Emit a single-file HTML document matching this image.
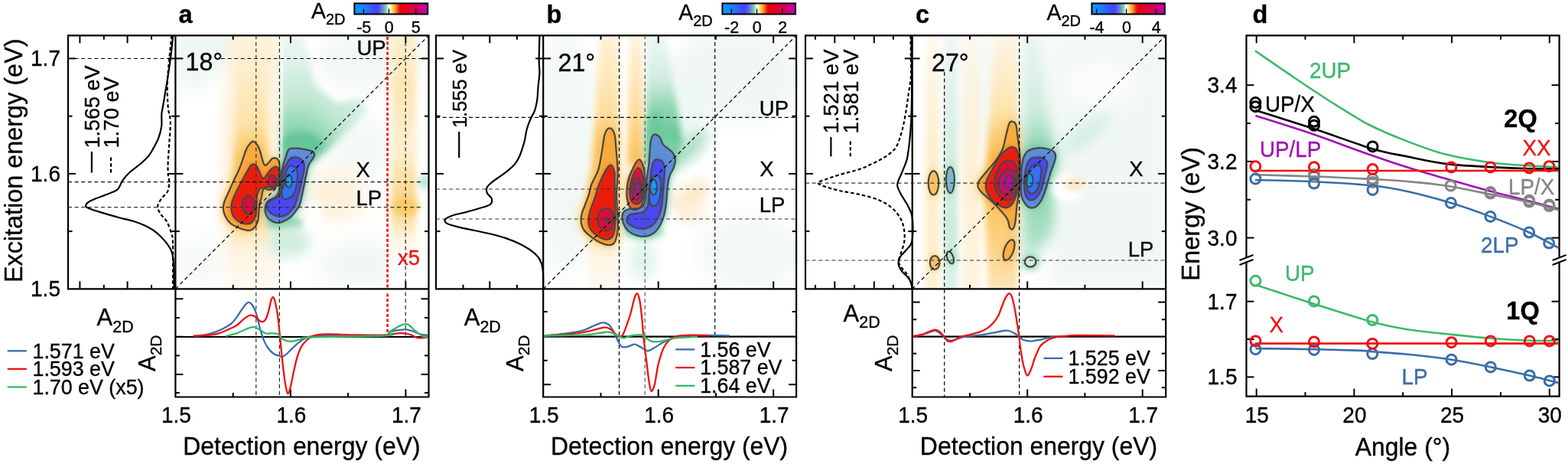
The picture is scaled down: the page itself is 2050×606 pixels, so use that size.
<!DOCTYPE html>
<html><head><meta charset="utf-8"><style>
html,body{margin:0;padding:0;background:#fff;}
svg{display:block;font-family:"Liberation Sans", Arial, sans-serif;}
text{stroke:currentColor;stroke-width:0.35px;}
</style></head><body>
<svg width="2050" height="606" viewBox="0 0 2050 606">
<defs>
<filter id="b1" x="-20%" y="-20%" width="140%" height="140%"><feGaussianBlur stdDeviation="1.2"/></filter>
<filter id="b2" x="-30%" y="-30%" width="160%" height="160%"><feGaussianBlur stdDeviation="2.5"/></filter>
<filter id="b4" x="-50%" y="-50%" width="200%" height="200%"><feGaussianBlur stdDeviation="4.5"/></filter>
<filter id="b8" x="-50%" y="-50%" width="200%" height="200%"><feGaussianBlur stdDeviation="8"/></filter>
<filter id="b14" x="-50%" y="-50%" width="200%" height="200%"><feGaussianBlur stdDeviation="14"/></filter>
<clipPath id="cpa"><rect x="229.4" y="46.3" width="331.1" height="331.1"/></clipPath>
<clipPath id="cpb"><rect x="710.2" y="46.3" width="330.9" height="331.1"/></clipPath>
<clipPath id="cpc"><rect x="1192.7" y="46.3" width="331.5" height="331.1"/></clipPath>
</defs>
<defs>
<linearGradient id="ga_or" x1="0" y1="46" x2="0" y2="377" gradientUnits="userSpaceOnUse">
<stop offset="0" stop-color="#fef4df"/><stop offset="0.35" stop-color="#fde2a6"/><stop offset="0.5" stop-color="#fbc35c"/>
<stop offset="0.72" stop-color="#fde0a0"/><stop offset="0.85" stop-color="#fef3e0"/><stop offset="1" stop-color="#fffaf2"/></linearGradient>
<linearGradient id="ga_pale" x1="0" y1="46" x2="0" y2="377" gradientUnits="userSpaceOnUse">
<stop offset="0" stop-color="#fdf1d8"/><stop offset="0.7" stop-color="#fdf1d8"/><stop offset="1" stop-color="#fffbf4"/></linearGradient>
<linearGradient id="ga_gr" x1="0" y1="46" x2="0" y2="210" gradientUnits="userSpaceOnUse">
<stop offset="0" stop-color="#e6f5ee"/><stop offset="0.45" stop-color="#b3e3cb"/><stop offset="1" stop-color="#5cc392"/></linearGradient>
<radialGradient id="ga_rg" cx="388" cy="210" r="150" fx="388" fy="210" gradientUnits="userSpaceOnUse" gradientTransform="translate(388,210) scale(1,1.15) translate(-388,-210)">
<stop offset="0" stop-color="#4fbf8c"/><stop offset="0.2" stop-color="#7fd0a8"/><stop offset="0.45" stop-color="#bde6d1"/><stop offset="0.8" stop-color="#e4f4ec"/><stop offset="1" stop-color="#f0f8f4"/></radialGradient>
<linearGradient id="ga_gr2" x1="0" y1="280" x2="0" y2="350" gradientUnits="userSpaceOnUse">
<stop offset="0" stop-color="#6fcb9d"/><stop offset="1" stop-color="#e6f5ee"/></linearGradient>
<linearGradient id="ga_17" x1="0" y1="46" x2="0" y2="377" gradientUnits="userSpaceOnUse">
<stop offset="0" stop-color="#fdefd0"/><stop offset="0.2" stop-color="#fde6b4"/><stop offset="0.45" stop-color="#fdefd2"/><stop offset="0.68" stop-color="#fbd27a"/><stop offset="0.8" stop-color="#fef4e2"/><stop offset="0.9" stop-color="#ffffff"/><stop offset="1" stop-color="#ffffff"/></linearGradient>
</defs>
<g clip-path="url(#cpa)">
<ellipse cx="255" cy="80" rx="35" ry="40" fill="#eef7f3" filter="url(#b14)"/>
<ellipse cx="290" cy="60" rx="60" ry="25" fill="#eef7f3" filter="url(#b8)"/>
<ellipse cx="480" cy="80" rx="70" ry="40" fill="#f2f8f5" filter="url(#b14)"/>
<ellipse cx="470" cy="190" rx="50" ry="40" fill="#f3f9f6" filter="url(#b14)"/>
<ellipse cx="470" cy="345" rx="60" ry="30" fill="#f0f7f4" filter="url(#b14)"/>
<ellipse cx="265" cy="340" rx="35" ry="30" fill="#f4f9f6" filter="url(#b14)"/>
<path d="M300,40 L366,40 L366,380 L292,380 L290,200 Z" fill="url(#ga_pale)" filter="url(#b8)"/>
<path d="M312,40 L345,40 L350,200 L354,300 L350,380 L300,380 L302,300 L306,200 Z" fill="url(#ga_or)" filter="url(#b4)"/>
<path d="M367.5,40 L396,40 L412,110 L440,135 L472,128 L480,145 L425,200 L405,214 L367.5,214 Z" fill="url(#ga_rg)" filter="url(#b4)"/>
<ellipse cx="395" cy="188" rx="26" ry="14" fill="#62c597" filter="url(#b4)"/>
<path d="M367.5,60 L369,60 L369,210 L367.5,210 Z" fill="#ffffff" filter="url(#b1)"/>
<ellipse cx="372" cy="292" rx="24" ry="10" fill="#86d2ab" filter="url(#b4)"/>
<ellipse cx="378" cy="315" rx="28" ry="22" fill="#d2eee0" filter="url(#b8)"/>
<ellipse cx="440" cy="255" rx="40" ry="32" fill="#fdefd8" filter="url(#b14)"/>
<ellipse cx="410" cy="283" rx="9" ry="20" fill="#ffffff" filter="url(#b4)"/>
<rect x="512" y="40" width="32" height="340" rx="0" fill="url(#ga_17)" filter="url(#b4)"/>
<ellipse cx="530" cy="270" rx="18" ry="10" fill="#fbc95e" filter="url(#b4)" opacity="0.85"/>
<ellipse cx="555" cy="238" rx="7" ry="9" fill="#b5e3cc" filter="url(#b4)"/>
<path d="M330.9,184.6C332.7,184.6 334.8,187.3 336.2,189.2C337.6,191.1 338.4,192.7 339.5,195.8C340.6,198.9 341.8,204.5 342.8,207.7C343.8,210.9 344.5,213.7 345.4,215C346.3,216.3 347,216.2 348.1,215.6C349.2,215 350.7,213.1 352,211.7C353.3,210.3 354.7,207.9 356,207C357.3,206.1 358.8,206.2 360,206.4C361.2,206.6 362.4,207.3 363.3,208.4C364.2,209.5 364.8,210.7 365.2,213C365.6,215.3 365.4,218.8 365.5,222C365.6,225.2 365.9,228.8 365.5,232C365.1,235.2 364.3,238.6 363,241C361.7,243.4 359.8,245.4 357.9,246.6C355.9,247.8 353.3,248 351.3,247.9C349.3,247.8 347.3,245.7 346,245.9C344.7,246.1 344.1,247.3 343.4,249.2C342.7,251.1 342.7,254.3 342,257.2C341.3,260.1 339.9,263.8 339.4,266.4C338.8,269 338.9,270.8 338.7,273C338.5,275.2 338.3,277.2 338.1,279.6C337.9,282 338.1,284.9 337.4,287.5C336.7,290.1 335.8,293.2 334.1,295.4C332.5,297.6 329.9,299.9 327.5,300.7C325.1,301.5 322.5,300.6 319.6,300C316.8,299.4 313.5,298.2 310.4,296.8C307.3,295.4 303.8,293.9 301.1,291.5C298.5,289.1 296,285.3 294.5,282.2C293,279.1 292.1,276.1 291.9,273C291.7,269.9 292.1,267.3 293.2,263.8C294.3,260.3 296.4,256.6 298.5,251.9C300.6,247.2 303.2,241 305.8,235.4C308.4,229.8 311.2,224.9 313.8,218.3C316.4,211.7 319.7,200.7 321.7,195.8C323.7,191 324.1,191.1 325.6,189.2C327.1,187.3 329.1,184.6 330.9,184.6Z" fill="#fccf70" stroke="none" stroke-width="0" filter="url(#b8)" opacity="0.9"/>
<path d="M330.9,184.6C332.7,184.6 334.8,187.3 336.2,189.2C337.6,191.1 338.4,192.7 339.5,195.8C340.6,198.9 341.8,204.5 342.8,207.7C343.8,210.9 344.5,213.7 345.4,215C346.3,216.3 347,216.2 348.1,215.6C349.2,215 350.7,213.1 352,211.7C353.3,210.3 354.7,207.9 356,207C357.3,206.1 358.8,206.2 360,206.4C361.2,206.6 362.4,207.3 363.3,208.4C364.2,209.5 364.8,210.7 365.2,213C365.6,215.3 365.4,218.8 365.5,222C365.6,225.2 365.9,228.8 365.5,232C365.1,235.2 364.3,238.6 363,241C361.7,243.4 359.8,245.4 357.9,246.6C355.9,247.8 353.3,248 351.3,247.9C349.3,247.8 347.3,245.7 346,245.9C344.7,246.1 344.1,247.3 343.4,249.2C342.7,251.1 342.7,254.3 342,257.2C341.3,260.1 339.9,263.8 339.4,266.4C338.8,269 338.9,270.8 338.7,273C338.5,275.2 338.3,277.2 338.1,279.6C337.9,282 338.1,284.9 337.4,287.5C336.7,290.1 335.8,293.2 334.1,295.4C332.5,297.6 329.9,299.9 327.5,300.7C325.1,301.5 322.5,300.6 319.6,300C316.8,299.4 313.5,298.2 310.4,296.8C307.3,295.4 303.8,293.9 301.1,291.5C298.5,289.1 296,285.3 294.5,282.2C293,279.1 292.1,276.1 291.9,273C291.7,269.9 292.1,267.3 293.2,263.8C294.3,260.3 296.4,256.6 298.5,251.9C300.6,247.2 303.2,241 305.8,235.4C308.4,229.8 311.2,224.9 313.8,218.3C316.4,211.7 319.7,200.7 321.7,195.8C323.7,191 324.1,191.1 325.6,189.2C327.1,187.3 329.1,184.6 330.9,184.6Z" fill="#f9b64a" stroke="none" stroke-width="0" filter="url(#b4)" opacity="0.9"/>
<path d="M378.6,194.2C380.6,193.4 384.7,193.5 387.8,193.6C390.9,193.7 393.9,194.3 397,194.9C400.1,195.5 404.1,196.1 406.3,196.9C408.5,197.7 409.4,198.4 410.2,199.5C411,200.6 411.2,202.1 410.9,203.5C410.6,204.9 409.3,206.6 408.3,208.1C407.3,209.6 406,210.8 405,212.7C404,214.6 403.1,216.7 402.3,219.3C401.5,222 401,225.5 400.3,228.6C399.6,231.7 399,234.7 398.4,237.8C397.8,240.9 397.1,243.9 396.5,247C395.9,250.1 395.3,253.1 394.5,256.4C393.7,259.7 393.1,263.9 391.9,267C390.7,270.1 389.1,272.3 387.2,274.9C385.3,277.5 383,280.6 380.6,282.8C378.2,285 375.3,286.7 372.7,288.1C370.1,289.5 367.4,290.8 364.8,291C362.2,291.2 359.3,290.4 356.9,289.4C354.5,288.4 351.9,286.8 350.3,284.8C348.7,282.8 347.6,280 347,277.5C346.4,275 346.7,271.8 347,269.6C347.3,267.4 348,265.7 349,264.3C350,262.9 351.4,262 352.9,261C354.4,260 356.6,259.4 358.2,258.4C359.8,257.4 361.1,256.5 362.2,255.1C363.3,253.7 364.2,251.8 364.8,249.8C365.4,247.8 365.7,246 366,243C366.3,240 366.1,235.5 366.5,232C366.9,228.5 368,225 368.7,222C369.4,219 369.8,216.7 370.6,214C371.4,211.3 372.4,208.7 373.3,206.1C374.2,203.5 375,200.2 375.9,198.2C376.8,196.2 376.6,195 378.6,194.2Z" fill="#8fd5b2" stroke="none" stroke-width="0" filter="url(#b8)" opacity="0.8"/>
<path d="M378.6,194.2C380.6,193.4 384.7,193.5 387.8,193.6C390.9,193.7 393.9,194.3 397,194.9C400.1,195.5 404.1,196.1 406.3,196.9C408.5,197.7 409.4,198.4 410.2,199.5C411,200.6 411.2,202.1 410.9,203.5C410.6,204.9 409.3,206.6 408.3,208.1C407.3,209.6 406,210.8 405,212.7C404,214.6 403.1,216.7 402.3,219.3C401.5,222 401,225.5 400.3,228.6C399.6,231.7 399,234.7 398.4,237.8C397.8,240.9 397.1,243.9 396.5,247C395.9,250.1 395.3,253.1 394.5,256.4C393.7,259.7 393.1,263.9 391.9,267C390.7,270.1 389.1,272.3 387.2,274.9C385.3,277.5 383,280.6 380.6,282.8C378.2,285 375.3,286.7 372.7,288.1C370.1,289.5 367.4,290.8 364.8,291C362.2,291.2 359.3,290.4 356.9,289.4C354.5,288.4 351.9,286.8 350.3,284.8C348.7,282.8 347.6,280 347,277.5C346.4,275 346.7,271.8 347,269.6C347.3,267.4 348,265.7 349,264.3C350,262.9 351.4,262 352.9,261C354.4,260 356.6,259.4 358.2,258.4C359.8,257.4 361.1,256.5 362.2,255.1C363.3,253.7 364.2,251.8 364.8,249.8C365.4,247.8 365.7,246 366,243C366.3,240 366.1,235.5 366.5,232C366.9,228.5 368,225 368.7,222C369.4,219 369.8,216.7 370.6,214C371.4,211.3 372.4,208.7 373.3,206.1C374.2,203.5 375,200.2 375.9,198.2C376.8,196.2 376.6,195 378.6,194.2Z" fill="#5cc393" stroke="none" stroke-width="0" filter="url(#b4)" opacity="0.9"/>
<path d="M330.9,184.6C332.7,184.6 334.8,187.3 336.2,189.2C337.6,191.1 338.4,192.7 339.5,195.8C340.6,198.9 341.8,204.5 342.8,207.7C343.8,210.9 344.5,213.7 345.4,215C346.3,216.3 347,216.2 348.1,215.6C349.2,215 350.7,213.1 352,211.7C353.3,210.3 354.7,207.9 356,207C357.3,206.1 358.8,206.2 360,206.4C361.2,206.6 362.4,207.3 363.3,208.4C364.2,209.5 364.8,210.7 365.2,213C365.6,215.3 365.4,218.8 365.5,222C365.6,225.2 365.9,228.8 365.5,232C365.1,235.2 364.3,238.6 363,241C361.7,243.4 359.8,245.4 357.9,246.6C355.9,247.8 353.3,248 351.3,247.9C349.3,247.8 347.3,245.7 346,245.9C344.7,246.1 344.1,247.3 343.4,249.2C342.7,251.1 342.7,254.3 342,257.2C341.3,260.1 339.9,263.8 339.4,266.4C338.8,269 338.9,270.8 338.7,273C338.5,275.2 338.3,277.2 338.1,279.6C337.9,282 338.1,284.9 337.4,287.5C336.7,290.1 335.8,293.2 334.1,295.4C332.5,297.6 329.9,299.9 327.5,300.7C325.1,301.5 322.5,300.6 319.6,300C316.8,299.4 313.5,298.2 310.4,296.8C307.3,295.4 303.8,293.9 301.1,291.5C298.5,289.1 296,285.3 294.5,282.2C293,279.1 292.1,276.1 291.9,273C291.7,269.9 292.1,267.3 293.2,263.8C294.3,260.3 296.4,256.6 298.5,251.9C300.6,247.2 303.2,241 305.8,235.4C308.4,229.8 311.2,224.9 313.8,218.3C316.4,211.7 319.7,200.7 321.7,195.8C323.7,191 324.1,191.1 325.6,189.2C327.1,187.3 329.1,184.6 330.9,184.6Z" fill="#f8aa3a" stroke="none" stroke-width="0" filter="url(#b1)"/>
<path d="M324.3,222.2C325.6,220 327,216.9 328.3,215.6C329.6,214.3 331,214.4 332.2,214.6C333.4,214.8 334.4,215.5 335.5,217C336.6,218.5 337.7,221.2 338.8,223.6C339.9,226 341,230 342.1,231.5C343.2,233 344.2,233.5 345.4,232.8C346.6,232.1 348.1,229.3 349.4,227.5C350.7,225.7 351.9,223.7 353.4,222.2C354.9,220.7 357.2,219 358.6,218.3C360,217.7 361.1,217.7 362,218.3C362.9,218.9 363.5,219.7 363.8,222C364.1,224.3 364.3,229 364,232C363.7,235 363.3,238 362,240C360.7,242 358.7,243.2 356,244C353.3,244.8 348.6,244.2 346,244.5C343.4,244.8 341.8,245.2 340.5,246C339.2,246.8 338.9,247.3 338.1,249C337.3,250.7 336.2,253.1 335.8,256C335.4,258.9 335.6,262.9 335.4,266.4C335.2,269.9 335.2,273.9 334.8,277C334.4,280.1 334,282.5 332.8,284.9C331.6,287.3 329.7,290.3 327.5,291.5C325.3,292.7 322.2,292.6 319.6,292.1C317,291.7 314.1,290.5 311.7,288.8C309.3,287.1 306.6,284.8 305,282.2C303.4,279.6 302.6,276.3 302.4,273C302.2,269.7 302.7,266.1 303.8,262.4C304.9,258.7 307,254.7 309,250.6C311,246.5 313.7,241.6 315.6,238C317.5,234.4 318.9,231.6 320.4,229C321.8,226.4 323,224.4 324.3,222.2Z" fill="#f26a1e" stroke="none" stroke-width="0" filter="url(#b4)"/>
<path d="M324.3,222.2C325.6,220 327,216.9 328.3,215.6C329.6,214.3 331,214.4 332.2,214.6C333.4,214.8 334.4,215.5 335.5,217C336.6,218.5 337.7,221.2 338.8,223.6C339.9,226 341,230 342.1,231.5C343.2,233 344.2,233.5 345.4,232.8C346.6,232.1 348.1,229.3 349.4,227.5C350.7,225.7 351.9,223.7 353.4,222.2C354.9,220.7 357.2,219 358.6,218.3C360,217.7 361.1,217.7 362,218.3C362.9,218.9 363.5,219.7 363.8,222C364.1,224.3 364.3,229 364,232C363.7,235 363.3,238 362,240C360.7,242 358.7,243.2 356,244C353.3,244.8 348.6,244.2 346,244.5C343.4,244.8 341.8,245.2 340.5,246C339.2,246.8 338.9,247.3 338.1,249C337.3,250.7 336.2,253.1 335.8,256C335.4,258.9 335.6,262.9 335.4,266.4C335.2,269.9 335.2,273.9 334.8,277C334.4,280.1 334,282.5 332.8,284.9C331.6,287.3 329.7,290.3 327.5,291.5C325.3,292.7 322.2,292.6 319.6,292.1C317,291.7 314.1,290.5 311.7,288.8C309.3,287.1 306.6,284.8 305,282.2C303.4,279.6 302.6,276.3 302.4,273C302.2,269.7 302.7,266.1 303.8,262.4C304.9,258.7 307,254.7 309,250.6C311,246.5 313.7,241.6 315.6,238C317.5,234.4 318.9,231.6 320.4,229C321.8,226.4 323,224.4 324.3,222.2Z" fill="#ec1a10" stroke="none" stroke-width="0" filter="url(#b1)"/>
<path d="M378.6,194.2C380.6,193.4 384.7,193.5 387.8,193.6C390.9,193.7 393.9,194.3 397,194.9C400.1,195.5 404.1,196.1 406.3,196.9C408.5,197.7 409.4,198.4 410.2,199.5C411,200.6 411.2,202.1 410.9,203.5C410.6,204.9 409.3,206.6 408.3,208.1C407.3,209.6 406,210.8 405,212.7C404,214.6 403.1,216.7 402.3,219.3C401.5,222 401,225.5 400.3,228.6C399.6,231.7 399,234.7 398.4,237.8C397.8,240.9 397.1,243.9 396.5,247C395.9,250.1 395.3,253.1 394.5,256.4C393.7,259.7 393.1,263.9 391.9,267C390.7,270.1 389.1,272.3 387.2,274.9C385.3,277.5 383,280.6 380.6,282.8C378.2,285 375.3,286.7 372.7,288.1C370.1,289.5 367.4,290.8 364.8,291C362.2,291.2 359.3,290.4 356.9,289.4C354.5,288.4 351.9,286.8 350.3,284.8C348.7,282.8 347.6,280 347,277.5C346.4,275 346.7,271.8 347,269.6C347.3,267.4 348,265.7 349,264.3C350,262.9 351.4,262 352.9,261C354.4,260 356.6,259.4 358.2,258.4C359.8,257.4 361.1,256.5 362.2,255.1C363.3,253.7 364.2,251.8 364.8,249.8C365.4,247.8 365.7,246 366,243C366.3,240 366.1,235.5 366.5,232C366.9,228.5 368,225 368.7,222C369.4,219 369.8,216.7 370.6,214C371.4,211.3 372.4,208.7 373.3,206.1C374.2,203.5 375,200.2 375.9,198.2C376.8,196.2 376.6,195 378.6,194.2Z" fill="#5b90d6" stroke="none" stroke-width="0" filter="url(#b1)"/>
<path d="M381.2,206.1C383,205.3 385.6,205.1 387.8,205.5C390,205.9 392.8,207.2 394.4,208.8C396,210.5 397.3,212.8 397.7,215.4C398.1,218 397.6,221.3 397,224.6C396.4,227.9 395.1,231.8 394.4,235.2C393.6,238.6 393.4,241.5 392.5,245C391.6,248.5 390.3,252.7 389.2,256.4C388.1,260.1 387.3,263.9 385.9,267C384.5,270.1 382.6,272.6 380.6,274.9C378.6,277.2 376.4,279.5 374,280.8C371.6,282.1 368.7,282.8 366.1,282.8C363.5,282.8 360.6,281.9 358.2,280.8C355.8,279.7 353.1,278.1 351.6,276.2C350.1,274.3 349.2,271.6 349,269.6C348.8,267.6 349.2,265.7 350.3,264.3C351.4,262.9 353.6,262 355.6,261C357.6,260 360.4,259.6 362.2,258.4C363.9,257.2 365.1,255.9 366.1,253.8C367.1,251.7 367.6,248.9 368.1,245.8C368.6,242.7 368.7,238.8 369,235C369.3,231.2 369.3,226.4 370,223.3C370.7,220.2 372.1,218.9 373.3,216.7C374.5,214.5 375.9,211.9 377.2,210.1C378.5,208.3 379.4,206.9 381.2,206.1Z" fill="#5a66ee" stroke="none" stroke-width="0" filter="url(#b4)"/>
<path d="M381.2,206.1C383,205.3 385.6,205.1 387.8,205.5C390,205.9 392.8,207.2 394.4,208.8C396,210.5 397.3,212.8 397.7,215.4C398.1,218 397.6,221.3 397,224.6C396.4,227.9 395.1,231.8 394.4,235.2C393.6,238.6 393.4,241.5 392.5,245C391.6,248.5 390.3,252.7 389.2,256.4C388.1,260.1 387.3,263.9 385.9,267C384.5,270.1 382.6,272.6 380.6,274.9C378.6,277.2 376.4,279.5 374,280.8C371.6,282.1 368.7,282.8 366.1,282.8C363.5,282.8 360.6,281.9 358.2,280.8C355.8,279.7 353.1,278.1 351.6,276.2C350.1,274.3 349.2,271.6 349,269.6C348.8,267.6 349.2,265.7 350.3,264.3C351.4,262.9 353.6,262 355.6,261C357.6,260 360.4,259.6 362.2,258.4C363.9,257.2 365.1,255.9 366.1,253.8C367.1,251.7 367.6,248.9 368.1,245.8C368.6,242.7 368.7,238.8 369,235C369.3,231.2 369.3,226.4 370,223.3C370.7,220.2 372.1,218.9 373.3,216.7C374.5,214.5 375.9,211.9 377.2,210.1C378.5,208.3 379.4,206.9 381.2,206.1Z" fill="#4a46f6" stroke="none" stroke-width="0" filter="url(#b1)"/>
<path d="M377.2,218C378.6,216.7 380.9,216.3 382.5,216.7C384.1,217.1 386,218.8 387.1,220.6C388.2,222.3 388.9,224.3 389.1,227.2C389.3,230.1 388.9,234.5 388.5,237.8C388.1,241.1 387.3,244.3 386.5,247C385.7,249.7 384.9,252 383.5,254C382.1,256 379.9,258 378,259C376.1,260 373.6,260.5 372,260C370.4,259.5 369.1,257.8 368.5,256C367.9,254.2 368,251.5 368.5,249C369,246.5 370.8,243.5 371.5,241C372.2,238.5 372.2,236.5 372.6,233.8C373,231.1 373.1,227.2 373.9,224.6C374.7,222 375.8,219.3 377.2,218Z" fill="#3070ff" stroke="none" stroke-width="0" filter="url(#b1)"/>
<ellipse cx="324.9" cy="267.7" rx="8" ry="12" fill="#d8083e" filter="url(#b1)"/>
<ellipse cx="356" cy="237.4" rx="5" ry="8.6" fill="#d8083e" filter="url(#b1)"/>
<ellipse cx="377.5" cy="236.5" rx="4.2" ry="8.5" fill="#149cf8" filter="url(#b1)"/>
<path d="M330.9,184.6C332.7,184.6 334.8,187.3 336.2,189.2C337.6,191.1 338.4,192.7 339.5,195.8C340.6,198.9 341.8,204.5 342.8,207.7C343.8,210.9 344.5,213.7 345.4,215C346.3,216.3 347,216.2 348.1,215.6C349.2,215 350.7,213.1 352,211.7C353.3,210.3 354.7,207.9 356,207C357.3,206.1 358.8,206.2 360,206.4C361.2,206.6 362.4,207.3 363.3,208.4C364.2,209.5 364.8,210.7 365.2,213C365.6,215.3 365.4,218.8 365.5,222C365.6,225.2 365.9,228.8 365.5,232C365.1,235.2 364.3,238.6 363,241C361.7,243.4 359.8,245.4 357.9,246.6C355.9,247.8 353.3,248 351.3,247.9C349.3,247.8 347.3,245.7 346,245.9C344.7,246.1 344.1,247.3 343.4,249.2C342.7,251.1 342.7,254.3 342,257.2C341.3,260.1 339.9,263.8 339.4,266.4C338.8,269 338.9,270.8 338.7,273C338.5,275.2 338.3,277.2 338.1,279.6C337.9,282 338.1,284.9 337.4,287.5C336.7,290.1 335.8,293.2 334.1,295.4C332.5,297.6 329.9,299.9 327.5,300.7C325.1,301.5 322.5,300.6 319.6,300C316.8,299.4 313.5,298.2 310.4,296.8C307.3,295.4 303.8,293.9 301.1,291.5C298.5,289.1 296,285.3 294.5,282.2C293,279.1 292.1,276.1 291.9,273C291.7,269.9 292.1,267.3 293.2,263.8C294.3,260.3 296.4,256.6 298.5,251.9C300.6,247.2 303.2,241 305.8,235.4C308.4,229.8 311.2,224.9 313.8,218.3C316.4,211.7 319.7,200.7 321.7,195.8C323.7,191 324.1,191.1 325.6,189.2C327.1,187.3 329.1,184.6 330.9,184.6Z" fill="none" stroke="#474747" stroke-width="2.25"/>
<path d="M324.3,222.2C325.6,220 327,216.9 328.3,215.6C329.6,214.3 331,214.4 332.2,214.6C333.4,214.8 334.4,215.5 335.5,217C336.6,218.5 337.7,221.2 338.8,223.6C339.9,226 341,230 342.1,231.5C343.2,233 344.2,233.5 345.4,232.8C346.6,232.1 348.1,229.3 349.4,227.5C350.7,225.7 351.9,223.7 353.4,222.2C354.9,220.7 357.2,219 358.6,218.3C360,217.7 361.1,217.7 362,218.3C362.9,218.9 363.5,219.7 363.8,222C364.1,224.3 364.3,229 364,232C363.7,235 363.3,238 362,240C360.7,242 358.7,243.2 356,244C353.3,244.8 348.6,244.2 346,244.5C343.4,244.8 341.8,245.2 340.5,246C339.2,246.8 338.9,247.3 338.1,249C337.3,250.7 336.2,253.1 335.8,256C335.4,258.9 335.6,262.9 335.4,266.4C335.2,269.9 335.2,273.9 334.8,277C334.4,280.1 334,282.5 332.8,284.9C331.6,287.3 329.7,290.3 327.5,291.5C325.3,292.7 322.2,292.6 319.6,292.1C317,291.7 314.1,290.5 311.7,288.8C309.3,287.1 306.6,284.8 305,282.2C303.4,279.6 302.6,276.3 302.4,273C302.2,269.7 302.7,266.1 303.8,262.4C304.9,258.7 307,254.7 309,250.6C311,246.5 313.7,241.6 315.6,238C317.5,234.4 318.9,231.6 320.4,229C321.8,226.4 323,224.4 324.3,222.2Z" fill="none" stroke="#474747" stroke-width="2.25"/>
<path d="M378.6,194.2C380.6,193.4 384.7,193.5 387.8,193.6C390.9,193.7 393.9,194.3 397,194.9C400.1,195.5 404.1,196.1 406.3,196.9C408.5,197.7 409.4,198.4 410.2,199.5C411,200.6 411.2,202.1 410.9,203.5C410.6,204.9 409.3,206.6 408.3,208.1C407.3,209.6 406,210.8 405,212.7C404,214.6 403.1,216.7 402.3,219.3C401.5,222 401,225.5 400.3,228.6C399.6,231.7 399,234.7 398.4,237.8C397.8,240.9 397.1,243.9 396.5,247C395.9,250.1 395.3,253.1 394.5,256.4C393.7,259.7 393.1,263.9 391.9,267C390.7,270.1 389.1,272.3 387.2,274.9C385.3,277.5 383,280.6 380.6,282.8C378.2,285 375.3,286.7 372.7,288.1C370.1,289.5 367.4,290.8 364.8,291C362.2,291.2 359.3,290.4 356.9,289.4C354.5,288.4 351.9,286.8 350.3,284.8C348.7,282.8 347.6,280 347,277.5C346.4,275 346.7,271.8 347,269.6C347.3,267.4 348,265.7 349,264.3C350,262.9 351.4,262 352.9,261C354.4,260 356.6,259.4 358.2,258.4C359.8,257.4 361.1,256.5 362.2,255.1C363.3,253.7 364.2,251.8 364.8,249.8C365.4,247.8 365.7,246 366,243C366.3,240 366.1,235.5 366.5,232C366.9,228.5 368,225 368.7,222C369.4,219 369.8,216.7 370.6,214C371.4,211.3 372.4,208.7 373.3,206.1C374.2,203.5 375,200.2 375.9,198.2C376.8,196.2 376.6,195 378.6,194.2Z" fill="none" stroke="#474747" stroke-width="2.25"/>
<path d="M381.2,206.1C383,205.3 385.6,205.1 387.8,205.5C390,205.9 392.8,207.2 394.4,208.8C396,210.5 397.3,212.8 397.7,215.4C398.1,218 397.6,221.3 397,224.6C396.4,227.9 395.1,231.8 394.4,235.2C393.6,238.6 393.4,241.5 392.5,245C391.6,248.5 390.3,252.7 389.2,256.4C388.1,260.1 387.3,263.9 385.9,267C384.5,270.1 382.6,272.6 380.6,274.9C378.6,277.2 376.4,279.5 374,280.8C371.6,282.1 368.7,282.8 366.1,282.8C363.5,282.8 360.6,281.9 358.2,280.8C355.8,279.7 353.1,278.1 351.6,276.2C350.1,274.3 349.2,271.6 349,269.6C348.8,267.6 349.2,265.7 350.3,264.3C351.4,262.9 353.6,262 355.6,261C357.6,260 360.4,259.6 362.2,258.4C363.9,257.2 365.1,255.9 366.1,253.8C367.1,251.7 367.6,248.9 368.1,245.8C368.6,242.7 368.7,238.8 369,235C369.3,231.2 369.3,226.4 370,223.3C370.7,220.2 372.1,218.9 373.3,216.7C374.5,214.5 375.9,211.9 377.2,210.1C378.5,208.3 379.4,206.9 381.2,206.1Z" fill="none" stroke="#474747" stroke-width="2.25"/>
<path d="M377.2,218C378.6,216.7 380.9,216.3 382.5,216.7C384.1,217.1 386,218.8 387.1,220.6C388.2,222.3 388.9,224.3 389.1,227.2C389.3,230.1 388.9,234.5 388.5,237.8C388.1,241.1 387.3,244.3 386.5,247C385.7,249.7 384.9,252 383.5,254C382.1,256 379.9,258 378,259C376.1,260 373.6,260.5 372,260C370.4,259.5 369.1,257.8 368.5,256C367.9,254.2 368,251.5 368.5,249C369,246.5 370.8,243.5 371.5,241C372.2,238.5 372.2,236.5 372.6,233.8C373,231.1 373.1,227.2 373.9,224.6C374.7,222 375.8,219.3 377.2,218Z" fill="none" stroke="#474747" stroke-width="2.25"/>
<ellipse cx="324.9" cy="267.7" rx="8" ry="12" fill="none" stroke="#474747" stroke-width="2.25"/>
<ellipse cx="356" cy="237.4" rx="5" ry="8.6" fill="none" stroke="#474747" stroke-width="2.25"/>
<ellipse cx="377.5" cy="236.5" rx="4.2" ry="8.5" fill="none" stroke="#474747" stroke-width="2.25"/>
<ellipse cx="366.5" cy="236.5" rx="2.6" ry="5.5" fill="#474747" filter="url(#b1)"/>
</g>
<defs>
<linearGradient id="gb_or" x1="0" y1="46" x2="0" y2="377" gradientUnits="userSpaceOnUse">
<stop offset="0" stop-color="#fef2da"/><stop offset="0.3" stop-color="#fddfa0"/><stop offset="0.45" stop-color="#fbc05a"/>
<stop offset="0.72" stop-color="#fcd68a"/><stop offset="0.85" stop-color="#fef3e0"/><stop offset="1" stop-color="#fffaf4"/></linearGradient>
<linearGradient id="gb_or2" x1="0" y1="46" x2="0" y2="230" gradientUnits="userSpaceOnUse">
<stop offset="0" stop-color="#fef4e0"/><stop offset="0.55" stop-color="#fddc98"/><stop offset="1" stop-color="#fbb848"/></linearGradient>
<linearGradient id="gb_gr" x1="0" y1="46" x2="0" y2="215" gradientUnits="userSpaceOnUse">
<stop offset="0" stop-color="#eef8f3"/><stop offset="0.35" stop-color="#cfeddf"/><stop offset="0.55" stop-color="#92d6b4"/><stop offset="0.8" stop-color="#66c79a"/><stop offset="1" stop-color="#5cc393"/></linearGradient>
<linearGradient id="gb_gr2" x1="0" y1="295" x2="0" y2="360" gradientUnits="userSpaceOnUse">
<stop offset="0" stop-color="#6fcb9d"/><stop offset="1" stop-color="#eaf6f0"/></linearGradient>
</defs>
<g clip-path="url(#cpb)">
<ellipse cx="740" cy="200" rx="40" ry="160" fill="#f1f8f5" filter="url(#b14)"/>
<ellipse cx="960" cy="100" rx="90" ry="60" fill="#f0f7f4" filter="url(#b14)"/>
<ellipse cx="980" cy="330" rx="70" ry="50" fill="#f2f8f5" filter="url(#b14)"/>
<ellipse cx="900" cy="160" rx="25" ry="50" fill="#eef7f3" filter="url(#b14)"/>
<path d="M784,40 L809,40 L810,200 L812,330 L808,380 L770,380 L765,300 L775,200 Z" fill="url(#gb_or)" filter="url(#b4)"/>
<path d="M823,40 L841,40 L842,215 L820,215 Z" fill="url(#gb_or2)" filter="url(#b4)"/>
<path d="M845,40 L870,40 L884,130 L895,195 L880,215 L845,215 Z" fill="url(#gb_gr)" filter="url(#b4)"/>
<ellipse cx="900" cy="195" rx="34" ry="11" fill="#a9dfc4" filter="url(#b8)" transform="rotate(-45,900,195)"/>
<ellipse cx="868" cy="192" rx="14" ry="16" fill="#7ccfa6" filter="url(#b4)"/>
<ellipse cx="857" cy="175" rx="10" ry="30" fill="#6cc99c" filter="url(#b4)"/>
<ellipse cx="842" cy="303" rx="26" ry="8" fill="#9fdcbf" filter="url(#b4)"/>
<ellipse cx="840" cy="340" rx="18" ry="25" fill="#e2f4ea" filter="url(#b8)"/>
<ellipse cx="903" cy="258" rx="30" ry="15" fill="#fce8c8" filter="url(#b8)" transform="rotate(-45,903,258)"/>
<ellipse cx="900" cy="280" rx="25" ry="12" fill="#fdf0dc" filter="url(#b8)"/>
<ellipse cx="880" cy="290" rx="8" ry="16" fill="#ffffff" filter="url(#b4)"/>
<ellipse cx="812" cy="250" rx="4" ry="60" fill="#ffffff" filter="url(#b2)"/>
<path d="M797,167.4C799,167.4 801.8,170 803.2,174.9C804.7,179.8 805,189.3 805.7,197.1C806.4,204.9 807.3,214.8 807.5,221.9C807.7,229 807.1,234.4 806.9,239.9C806.6,245.4 806,249.6 806,254.8C806,260 806.6,265.8 806.9,271.3C807.2,276.8 807.6,283.1 807.7,287.8C807.8,292.5 808,295.8 807.7,299.4C807.4,303 806.8,306.3 806,309.3C805.2,312.3 804.4,315.7 802.7,317.5C801.1,319.3 799.1,320.1 796.1,320C793.1,319.9 788.5,318.5 784.6,316.7C780.8,314.9 776.5,311.9 773,309.3C769.5,306.7 766.1,304 763.9,301C761.7,298 760.3,294.7 759.8,291.1C759.2,287.5 759.8,283.4 760.6,279.5C761.4,275.6 763.3,272.1 764.8,268C766.3,263.9 768.2,259.4 769.7,254.8C771.2,250.2 771.4,246 773.5,240.5C775.6,235 779.9,229.1 782.2,221.9C784.5,214.7 785.7,204.9 787.1,197.1C788.5,189.3 789.2,179.8 790.9,174.9C792.5,170 795,167.4 797,167.4Z" fill="#fccf70" stroke="none" stroke-width="0" filter="url(#b8)" opacity="0.9"/>
<path d="M797,167.4C799,167.4 801.8,170 803.2,174.9C804.7,179.8 805,189.3 805.7,197.1C806.4,204.9 807.3,214.8 807.5,221.9C807.7,229 807.1,234.4 806.9,239.9C806.6,245.4 806,249.6 806,254.8C806,260 806.6,265.8 806.9,271.3C807.2,276.8 807.6,283.1 807.7,287.8C807.8,292.5 808,295.8 807.7,299.4C807.4,303 806.8,306.3 806,309.3C805.2,312.3 804.4,315.7 802.7,317.5C801.1,319.3 799.1,320.1 796.1,320C793.1,319.9 788.5,318.5 784.6,316.7C780.8,314.9 776.5,311.9 773,309.3C769.5,306.7 766.1,304 763.9,301C761.7,298 760.3,294.7 759.8,291.1C759.2,287.5 759.8,283.4 760.6,279.5C761.4,275.6 763.3,272.1 764.8,268C766.3,263.9 768.2,259.4 769.7,254.8C771.2,250.2 771.4,246 773.5,240.5C775.6,235 779.9,229.1 782.2,221.9C784.5,214.7 785.7,204.9 787.1,197.1C788.5,189.3 789.2,179.8 790.9,174.9C792.5,170 795,167.4 797,167.4Z" fill="#f9b64a" stroke="none" stroke-width="0" filter="url(#b4)" opacity="0.9"/>
<path d="M835.9,208.4C837.2,208.6 838.6,211 839.6,213.3C840.6,215.6 841.5,218.5 842.1,222C842.7,225.5 843.1,230.7 843.3,234.4C843.5,238.1 843.7,240.6 843.5,244.3C843.3,248 843,252.5 842.1,256.6C841.2,260.7 840.3,266.1 838.4,269C836.5,271.9 833.4,273.8 830.9,274C828.4,274.2 825.4,272.7 823.5,270.2C821.6,267.7 820.4,263.4 819.8,259.1C819.2,254.8 819.4,248.8 819.8,244.3C820.2,239.8 821.1,235.8 822.3,231.9C823.5,228 825.6,224 827.2,220.7C828.8,217.4 830.2,214.1 831.7,212.1C833.2,210.1 834.6,208.2 835.9,208.4Z" fill="#fccf70" stroke="none" stroke-width="0" filter="url(#b8)" opacity="0.9"/>
<path d="M835.9,208.4C837.2,208.6 838.6,211 839.6,213.3C840.6,215.6 841.5,218.5 842.1,222C842.7,225.5 843.1,230.7 843.3,234.4C843.5,238.1 843.7,240.6 843.5,244.3C843.3,248 843,252.5 842.1,256.6C841.2,260.7 840.3,266.1 838.4,269C836.5,271.9 833.4,273.8 830.9,274C828.4,274.2 825.4,272.7 823.5,270.2C821.6,267.7 820.4,263.4 819.8,259.1C819.2,254.8 819.4,248.8 819.8,244.3C820.2,239.8 821.1,235.8 822.3,231.9C823.5,228 825.6,224 827.2,220.7C828.8,217.4 830.2,214.1 831.7,212.1C833.2,210.1 834.6,208.2 835.9,208.4Z" fill="#f9b64a" stroke="none" stroke-width="0" filter="url(#b4)" opacity="0.9"/>
<path d="M856.9,175.4C858.5,175.8 861.5,177.7 863.1,179.9C864.8,182.1 864.9,186.1 866.8,188.6C868.7,191.1 872,192.8 874.3,194.8C876.6,196.9 879,198.4 880.4,200.9C881.8,203.4 882.9,206.5 882.9,209.6C882.9,212.7 881.6,216.2 880.4,219.5C879.2,222.8 876.7,225.7 875.5,229.4C874.3,233.1 873.6,237.3 873,241.8C872.4,246.3 872.2,252.1 871.8,256.6C871.4,261.1 871.1,264.9 870.5,269C869.9,273.1 869.3,277.3 868.1,281.4C866.9,285.5 865.2,290.1 863.1,293.8C861,297.5 858.8,301.2 855.7,303.7C852.6,306.2 848.5,308 844.6,308.6C840.7,309.2 836.1,308.6 832.2,307.4C828.3,306.2 823.9,303.9 821,301.2C818.1,298.5 816.1,294.6 814.9,291.3C813.7,288 813.2,284.1 813.6,281.4C814,278.7 815.4,276.6 817.3,275.2C819.2,273.8 821.9,273.2 824.8,272.7C827.7,272.2 832,272.6 834.7,272C837.4,271.4 839.3,270.7 840.8,269C842.3,267.3 843.2,265.3 843.8,261.6C844.4,257.9 844.2,251.6 844.5,246.7C844.8,241.8 845.2,237.2 845.8,231.9C846.4,226.6 847.7,220 848.3,214.6C848.9,209.2 849.1,204.6 849.5,199.7C849.9,194.8 850.1,188.6 850.7,184.9C851.3,181.2 852.2,179 853.2,177.4C854.2,175.8 855.2,175 856.9,175.4Z" fill="#8fd5b2" stroke="none" stroke-width="0" filter="url(#b8)" opacity="0.8"/>
<path d="M856.9,175.4C858.5,175.8 861.5,177.7 863.1,179.9C864.8,182.1 864.9,186.1 866.8,188.6C868.7,191.1 872,192.8 874.3,194.8C876.6,196.9 879,198.4 880.4,200.9C881.8,203.4 882.9,206.5 882.9,209.6C882.9,212.7 881.6,216.2 880.4,219.5C879.2,222.8 876.7,225.7 875.5,229.4C874.3,233.1 873.6,237.3 873,241.8C872.4,246.3 872.2,252.1 871.8,256.6C871.4,261.1 871.1,264.9 870.5,269C869.9,273.1 869.3,277.3 868.1,281.4C866.9,285.5 865.2,290.1 863.1,293.8C861,297.5 858.8,301.2 855.7,303.7C852.6,306.2 848.5,308 844.6,308.6C840.7,309.2 836.1,308.6 832.2,307.4C828.3,306.2 823.9,303.9 821,301.2C818.1,298.5 816.1,294.6 814.9,291.3C813.7,288 813.2,284.1 813.6,281.4C814,278.7 815.4,276.6 817.3,275.2C819.2,273.8 821.9,273.2 824.8,272.7C827.7,272.2 832,272.6 834.7,272C837.4,271.4 839.3,270.7 840.8,269C842.3,267.3 843.2,265.3 843.8,261.6C844.4,257.9 844.2,251.6 844.5,246.7C844.8,241.8 845.2,237.2 845.8,231.9C846.4,226.6 847.7,220 848.3,214.6C848.9,209.2 849.1,204.6 849.5,199.7C849.9,194.8 850.1,188.6 850.7,184.9C851.3,181.2 852.2,179 853.2,177.4C854.2,175.8 855.2,175 856.9,175.4Z" fill="#5cc393" stroke="none" stroke-width="0" filter="url(#b4)" opacity="0.9"/>
<path d="M797,167.4C799,167.4 801.8,170 803.2,174.9C804.7,179.8 805,189.3 805.7,197.1C806.4,204.9 807.3,214.8 807.5,221.9C807.7,229 807.1,234.4 806.9,239.9C806.6,245.4 806,249.6 806,254.8C806,260 806.6,265.8 806.9,271.3C807.2,276.8 807.6,283.1 807.7,287.8C807.8,292.5 808,295.8 807.7,299.4C807.4,303 806.8,306.3 806,309.3C805.2,312.3 804.4,315.7 802.7,317.5C801.1,319.3 799.1,320.1 796.1,320C793.1,319.9 788.5,318.5 784.6,316.7C780.8,314.9 776.5,311.9 773,309.3C769.5,306.7 766.1,304 763.9,301C761.7,298 760.3,294.7 759.8,291.1C759.2,287.5 759.8,283.4 760.6,279.5C761.4,275.6 763.3,272.1 764.8,268C766.3,263.9 768.2,259.4 769.7,254.8C771.2,250.2 771.4,246 773.5,240.5C775.6,235 779.9,229.1 782.2,221.9C784.5,214.7 785.7,204.9 787.1,197.1C788.5,189.3 789.2,179.8 790.9,174.9C792.5,170 795,167.4 797,167.4Z" fill="#f8aa3a" stroke="none" stroke-width="0" filter="url(#b1)"/>
<path d="M798.3,215.7C800.3,215.7 802.3,220.6 803.2,224.4C804.1,228.2 803.5,233.2 803.6,238.3C803.7,243.4 803.5,247.9 803.6,254.8C803.7,261.7 804.4,272.1 804.4,279.5C804.4,286.9 804.3,294.4 803.6,299.4C802.9,304.4 801.8,307.1 800.3,309.3C798.8,311.5 796.9,312.3 794.5,312.6C792.1,312.9 789.2,312.3 786.2,310.9C783.2,309.5 778.9,306.8 776.3,304.3C773.7,301.8 771.6,299.3 770.5,296C769.4,292.7 769.3,288.6 769.7,284.5C770.1,280.4 771.6,275.7 773,271.3C774.4,266.9 776.4,262.8 778,258.1C779.6,253.4 780.4,248.6 782.5,243C784.6,237.4 788.3,229 790.9,224.4C793.5,219.8 796.2,215.7 798.3,215.7Z" fill="#f26a1e" stroke="none" stroke-width="0" filter="url(#b4)"/>
<path d="M798.3,215.7C800.3,215.7 802.3,220.6 803.2,224.4C804.1,228.2 803.5,233.2 803.6,238.3C803.7,243.4 803.5,247.9 803.6,254.8C803.7,261.7 804.4,272.1 804.4,279.5C804.4,286.9 804.3,294.4 803.6,299.4C802.9,304.4 801.8,307.1 800.3,309.3C798.8,311.5 796.9,312.3 794.5,312.6C792.1,312.9 789.2,312.3 786.2,310.9C783.2,309.5 778.9,306.8 776.3,304.3C773.7,301.8 771.6,299.3 770.5,296C769.4,292.7 769.3,288.6 769.7,284.5C770.1,280.4 771.6,275.7 773,271.3C774.4,266.9 776.4,262.8 778,258.1C779.6,253.4 780.4,248.6 782.5,243C784.6,237.4 788.3,229 790.9,224.4C793.5,219.8 796.2,215.7 798.3,215.7Z" fill="#ec1a10" stroke="none" stroke-width="0" filter="url(#b1)"/>
<path d="M792.8,272.1C794.6,272.4 797.1,272.8 798.6,274.6C800.1,276.4 801.5,279.8 801.9,282.8C802.3,285.8 801.9,289.8 801.1,292.7C800.3,295.6 798.8,298.8 797,300.2C795.2,301.6 792.6,301.7 790.4,301C788.2,300.3 785.3,298.5 783.8,296C782.3,293.5 781.3,289.3 781.3,286.1C781.3,282.9 782.7,279.2 783.8,277C784.9,274.8 786.4,273.7 787.9,272.9C789.4,272.1 791,271.8 792.8,272.1Z" fill="#d8083e" stroke="none" stroke-width="0" filter="url(#b1)"/>
<path d="M856.9,175.4C858.5,175.8 861.5,177.7 863.1,179.9C864.8,182.1 864.9,186.1 866.8,188.6C868.7,191.1 872,192.8 874.3,194.8C876.6,196.9 879,198.4 880.4,200.9C881.8,203.4 882.9,206.5 882.9,209.6C882.9,212.7 881.6,216.2 880.4,219.5C879.2,222.8 876.7,225.7 875.5,229.4C874.3,233.1 873.6,237.3 873,241.8C872.4,246.3 872.2,252.1 871.8,256.6C871.4,261.1 871.1,264.9 870.5,269C869.9,273.1 869.3,277.3 868.1,281.4C866.9,285.5 865.2,290.1 863.1,293.8C861,297.5 858.8,301.2 855.7,303.7C852.6,306.2 848.5,308 844.6,308.6C840.7,309.2 836.1,308.6 832.2,307.4C828.3,306.2 823.9,303.9 821,301.2C818.1,298.5 816.1,294.6 814.9,291.3C813.7,288 813.2,284.1 813.6,281.4C814,278.7 815.4,276.6 817.3,275.2C819.2,273.8 821.9,273.2 824.8,272.7C827.7,272.2 832,272.6 834.7,272C837.4,271.4 839.3,270.7 840.8,269C842.3,267.3 843.2,265.3 843.8,261.6C844.4,257.9 844.2,251.6 844.5,246.7C844.8,241.8 845.2,237.2 845.8,231.9C846.4,226.6 847.7,220 848.3,214.6C848.9,209.2 849.1,204.6 849.5,199.7C849.9,194.8 850.1,188.6 850.7,184.9C851.3,181.2 852.2,179 853.2,177.4C854.2,175.8 855.2,175 856.9,175.4Z" fill="#5b90d6" stroke="none" stroke-width="0" filter="url(#b1)"/>
<path d="M859.4,208.4C861,208.6 864,209 865.6,210.8C867.2,212.7 868.4,215.6 868.8,219.5C869.2,223.4 868.4,229 868.1,234.4C867.8,239.8 867.3,245.9 866.8,251.7C866.3,257.5 865.9,263.6 864.9,269C863.9,274.4 862.5,279.8 860.6,283.9C858.7,288 856.3,291.3 853.2,293.8C850.1,296.3 846,298.2 842.1,298.7C838.2,299.2 833.2,297.9 829.7,296.7C826.2,295.5 822.6,293.2 821,291.3C819.4,289.4 819.2,287 819.8,285.1C820.4,283.2 822.3,281.2 824.8,280.1C827.3,279 831.8,279 834.7,278.4C837.6,277.8 840.1,278 842.1,276.4C844.1,274.8 846,272.3 847,269C848,265.7 847.9,260.7 848.3,256.6C848.7,252.5 849.1,248.8 849.5,244.3C849.9,239.8 850.1,234.4 850.7,229.4C851.3,224.4 852.4,217.9 853.2,214.6C854,211.3 854.7,210.6 855.7,209.6C856.7,208.6 857.8,208.2 859.4,208.4Z" fill="#5a66ee" stroke="none" stroke-width="0" filter="url(#b4)"/>
<path d="M859.4,208.4C861,208.6 864,209 865.6,210.8C867.2,212.7 868.4,215.6 868.8,219.5C869.2,223.4 868.4,229 868.1,234.4C867.8,239.8 867.3,245.9 866.8,251.7C866.3,257.5 865.9,263.6 864.9,269C863.9,274.4 862.5,279.8 860.6,283.9C858.7,288 856.3,291.3 853.2,293.8C850.1,296.3 846,298.2 842.1,298.7C838.2,299.2 833.2,297.9 829.7,296.7C826.2,295.5 822.6,293.2 821,291.3C819.4,289.4 819.2,287 819.8,285.1C820.4,283.2 822.3,281.2 824.8,280.1C827.3,279 831.8,279 834.7,278.4C837.6,277.8 840.1,278 842.1,276.4C844.1,274.8 846,272.3 847,269C848,265.7 847.9,260.7 848.3,256.6C848.7,252.5 849.1,248.8 849.5,244.3C849.9,239.8 850.1,234.4 850.7,229.4C851.3,224.4 852.4,217.9 853.2,214.6C854,211.3 854.7,210.6 855.7,209.6C856.7,208.6 857.8,208.2 859.4,208.4Z" fill="#4a46f6" stroke="none" stroke-width="0" filter="url(#b1)"/>
<path d="M855.7,229.4C857.6,228.4 860.5,228.5 861.9,230.6C863.3,232.7 864.2,237.5 864.4,241.8C864.6,246.1 863.9,252.5 863.1,256.6C862.3,260.7 861,264.4 859.4,266.5C857.8,268.6 854.9,269.4 853.2,269C851.6,268.6 850.2,267.4 849.5,264.1C848.8,260.8 848.8,253.8 849,249.2C849.2,244.6 849.6,240.1 850.7,236.8C851.8,233.5 853.8,230.4 855.7,229.4Z" fill="#3070ff" stroke="none" stroke-width="0" filter="url(#b1)"/>
<path d="M835.9,208.4C837.2,208.6 838.6,211 839.6,213.3C840.6,215.6 841.5,218.5 842.1,222C842.7,225.5 843.1,230.7 843.3,234.4C843.5,238.1 843.7,240.6 843.5,244.3C843.3,248 843,252.5 842.1,256.6C841.2,260.7 840.3,266.1 838.4,269C836.5,271.9 833.4,273.8 830.9,274C828.4,274.2 825.4,272.7 823.5,270.2C821.6,267.7 820.4,263.4 819.8,259.1C819.2,254.8 819.4,248.8 819.8,244.3C820.2,239.8 821.1,235.8 822.3,231.9C823.5,228 825.6,224 827.2,220.7C828.8,217.4 830.2,214.1 831.7,212.1C833.2,210.1 834.6,208.2 835.9,208.4Z" fill="#f26420" stroke="none" stroke-width="0" filter="url(#b1)"/>
<path d="M834.7,219.5C836.4,219.9 838.5,223.2 839.6,226.9C840.8,230.6 841.6,236.4 841.6,241.8C841.6,247.2 841,255 839.6,259.1C838.2,263.2 835.7,265.9 833.4,266.5C831.1,267.1 827.6,265.7 826,262.8C824.4,259.9 823.5,253.9 823.5,249.2C823.5,244.5 825,238.5 826,234.4C827,230.3 828.2,227 829.7,224.5C831.2,222 833.1,219.1 834.7,219.5Z" fill="#e0103a" stroke="none" stroke-width="0" filter="url(#b1)"/>
<ellipse cx="832.5" cy="246.7" rx="6.5" ry="14" fill="#cc0870" filter="url(#b1)"/>
<ellipse cx="833" cy="245.5" rx="4" ry="9" fill="#c0088a" filter="url(#b1)"/>
<ellipse cx="854.5" cy="244.3" rx="4.5" ry="10" fill="#149cf8" filter="url(#b1)"/>
<path d="M797,167.4C799,167.4 801.8,170 803.2,174.9C804.7,179.8 805,189.3 805.7,197.1C806.4,204.9 807.3,214.8 807.5,221.9C807.7,229 807.1,234.4 806.9,239.9C806.6,245.4 806,249.6 806,254.8C806,260 806.6,265.8 806.9,271.3C807.2,276.8 807.6,283.1 807.7,287.8C807.8,292.5 808,295.8 807.7,299.4C807.4,303 806.8,306.3 806,309.3C805.2,312.3 804.4,315.7 802.7,317.5C801.1,319.3 799.1,320.1 796.1,320C793.1,319.9 788.5,318.5 784.6,316.7C780.8,314.9 776.5,311.9 773,309.3C769.5,306.7 766.1,304 763.9,301C761.7,298 760.3,294.7 759.8,291.1C759.2,287.5 759.8,283.4 760.6,279.5C761.4,275.6 763.3,272.1 764.8,268C766.3,263.9 768.2,259.4 769.7,254.8C771.2,250.2 771.4,246 773.5,240.5C775.6,235 779.9,229.1 782.2,221.9C784.5,214.7 785.7,204.9 787.1,197.1C788.5,189.3 789.2,179.8 790.9,174.9C792.5,170 795,167.4 797,167.4Z" fill="none" stroke="#474747" stroke-width="2.25"/>
<path d="M798.3,215.7C800.3,215.7 802.3,220.6 803.2,224.4C804.1,228.2 803.5,233.2 803.6,238.3C803.7,243.4 803.5,247.9 803.6,254.8C803.7,261.7 804.4,272.1 804.4,279.5C804.4,286.9 804.3,294.4 803.6,299.4C802.9,304.4 801.8,307.1 800.3,309.3C798.8,311.5 796.9,312.3 794.5,312.6C792.1,312.9 789.2,312.3 786.2,310.9C783.2,309.5 778.9,306.8 776.3,304.3C773.7,301.8 771.6,299.3 770.5,296C769.4,292.7 769.3,288.6 769.7,284.5C770.1,280.4 771.6,275.7 773,271.3C774.4,266.9 776.4,262.8 778,258.1C779.6,253.4 780.4,248.6 782.5,243C784.6,237.4 788.3,229 790.9,224.4C793.5,219.8 796.2,215.7 798.3,215.7Z" fill="none" stroke="#474747" stroke-width="2.25"/>
<path d="M792.8,272.1C794.6,272.4 797.1,272.8 798.6,274.6C800.1,276.4 801.5,279.8 801.9,282.8C802.3,285.8 801.9,289.8 801.1,292.7C800.3,295.6 798.8,298.8 797,300.2C795.2,301.6 792.6,301.7 790.4,301C788.2,300.3 785.3,298.5 783.8,296C782.3,293.5 781.3,289.3 781.3,286.1C781.3,282.9 782.7,279.2 783.8,277C784.9,274.8 786.4,273.7 787.9,272.9C789.4,272.1 791,271.8 792.8,272.1Z" fill="none" stroke="#474747" stroke-width="2.25"/>
<path d="M835.9,208.4C837.2,208.6 838.6,211 839.6,213.3C840.6,215.6 841.5,218.5 842.1,222C842.7,225.5 843.1,230.7 843.3,234.4C843.5,238.1 843.7,240.6 843.5,244.3C843.3,248 843,252.5 842.1,256.6C841.2,260.7 840.3,266.1 838.4,269C836.5,271.9 833.4,273.8 830.9,274C828.4,274.2 825.4,272.7 823.5,270.2C821.6,267.7 820.4,263.4 819.8,259.1C819.2,254.8 819.4,248.8 819.8,244.3C820.2,239.8 821.1,235.8 822.3,231.9C823.5,228 825.6,224 827.2,220.7C828.8,217.4 830.2,214.1 831.7,212.1C833.2,210.1 834.6,208.2 835.9,208.4Z" fill="none" stroke="#474747" stroke-width="2.25"/>
<path d="M834.7,219.5C836.4,219.9 838.5,223.2 839.6,226.9C840.8,230.6 841.6,236.4 841.6,241.8C841.6,247.2 841,255 839.6,259.1C838.2,263.2 835.7,265.9 833.4,266.5C831.1,267.1 827.6,265.7 826,262.8C824.4,259.9 823.5,253.9 823.5,249.2C823.5,244.5 825,238.5 826,234.4C827,230.3 828.2,227 829.7,224.5C831.2,222 833.1,219.1 834.7,219.5Z" fill="none" stroke="#474747" stroke-width="2.25"/>
<path d="M856.9,175.4C858.5,175.8 861.5,177.7 863.1,179.9C864.8,182.1 864.9,186.1 866.8,188.6C868.7,191.1 872,192.8 874.3,194.8C876.6,196.9 879,198.4 880.4,200.9C881.8,203.4 882.9,206.5 882.9,209.6C882.9,212.7 881.6,216.2 880.4,219.5C879.2,222.8 876.7,225.7 875.5,229.4C874.3,233.1 873.6,237.3 873,241.8C872.4,246.3 872.2,252.1 871.8,256.6C871.4,261.1 871.1,264.9 870.5,269C869.9,273.1 869.3,277.3 868.1,281.4C866.9,285.5 865.2,290.1 863.1,293.8C861,297.5 858.8,301.2 855.7,303.7C852.6,306.2 848.5,308 844.6,308.6C840.7,309.2 836.1,308.6 832.2,307.4C828.3,306.2 823.9,303.9 821,301.2C818.1,298.5 816.1,294.6 814.9,291.3C813.7,288 813.2,284.1 813.6,281.4C814,278.7 815.4,276.6 817.3,275.2C819.2,273.8 821.9,273.2 824.8,272.7C827.7,272.2 832,272.6 834.7,272C837.4,271.4 839.3,270.7 840.8,269C842.3,267.3 843.2,265.3 843.8,261.6C844.4,257.9 844.2,251.6 844.5,246.7C844.8,241.8 845.2,237.2 845.8,231.9C846.4,226.6 847.7,220 848.3,214.6C848.9,209.2 849.1,204.6 849.5,199.7C849.9,194.8 850.1,188.6 850.7,184.9C851.3,181.2 852.2,179 853.2,177.4C854.2,175.8 855.2,175 856.9,175.4Z" fill="none" stroke="#474747" stroke-width="2.25"/>
<path d="M859.4,208.4C861,208.6 864,209 865.6,210.8C867.2,212.7 868.4,215.6 868.8,219.5C869.2,223.4 868.4,229 868.1,234.4C867.8,239.8 867.3,245.9 866.8,251.7C866.3,257.5 865.9,263.6 864.9,269C863.9,274.4 862.5,279.8 860.6,283.9C858.7,288 856.3,291.3 853.2,293.8C850.1,296.3 846,298.2 842.1,298.7C838.2,299.2 833.2,297.9 829.7,296.7C826.2,295.5 822.6,293.2 821,291.3C819.4,289.4 819.2,287 819.8,285.1C820.4,283.2 822.3,281.2 824.8,280.1C827.3,279 831.8,279 834.7,278.4C837.6,277.8 840.1,278 842.1,276.4C844.1,274.8 846,272.3 847,269C848,265.7 847.9,260.7 848.3,256.6C848.7,252.5 849.1,248.8 849.5,244.3C849.9,239.8 850.1,234.4 850.7,229.4C851.3,224.4 852.4,217.9 853.2,214.6C854,211.3 854.7,210.6 855.7,209.6C856.7,208.6 857.8,208.2 859.4,208.4Z" fill="none" stroke="#474747" stroke-width="2.25"/>
<path d="M855.7,229.4C857.6,228.4 860.5,228.5 861.9,230.6C863.3,232.7 864.2,237.5 864.4,241.8C864.6,246.1 863.9,252.5 863.1,256.6C862.3,260.7 861,264.4 859.4,266.5C857.8,268.6 854.9,269.4 853.2,269C851.6,268.6 850.2,267.4 849.5,264.1C848.8,260.8 848.8,253.8 849,249.2C849.2,244.6 849.6,240.1 850.7,236.8C851.8,233.5 853.8,230.4 855.7,229.4Z" fill="none" stroke="#474747" stroke-width="2.25"/>
<ellipse cx="793.7" cy="287" rx="2.5" ry="2.5" fill="none" stroke="#474747" stroke-width="2.25"/>
<ellipse cx="832.5" cy="246.7" rx="6.5" ry="14" fill="none" stroke="#474747" stroke-width="2.25"/>
<ellipse cx="833" cy="245.5" rx="3.5" ry="8" fill="none" stroke="#474747" stroke-width="2.25"/>
<ellipse cx="854.5" cy="244.3" rx="4.5" ry="10" fill="none" stroke="#474747" stroke-width="2.25"/>
<ellipse cx="844" cy="246" rx="2.6" ry="5.5" fill="#474747" filter="url(#b1)"/>
</g>
<defs>
<linearGradient id="gc_or" x1="0" y1="46" x2="0" y2="377" gradientUnits="userSpaceOnUse">
<stop offset="0" stop-color="#fef6e8"/><stop offset="0.3" stop-color="#fde4ac"/><stop offset="0.48" stop-color="#fbb848"/>
<stop offset="0.75" stop-color="#fccc74"/><stop offset="1" stop-color="#fde4b4"/></linearGradient>
<linearGradient id="gc_gr" x1="0" y1="46" x2="0" y2="377" gradientUnits="userSpaceOnUse">
<stop offset="0" stop-color="#e8f5ef"/><stop offset="0.3" stop-color="#cdebdc"/><stop offset="0.45" stop-color="#8cd4b0"/>
<stop offset="0.7" stop-color="#9ad9b9"/><stop offset="1" stop-color="#d6efe3"/></linearGradient>
<linearGradient id="gc_y" x1="0" y1="46" x2="0" y2="377" gradientUnits="userSpaceOnUse">
<stop offset="0" stop-color="#fef6e6"/><stop offset="0.55" stop-color="#fde7b9"/><stop offset="1" stop-color="#fdecc6"/></linearGradient>
<linearGradient id="gc_g2" x1="0" y1="46" x2="0" y2="377" gradientUnits="userSpaceOnUse">
<stop offset="0" stop-color="#eef7f3"/><stop offset="0.55" stop-color="#cdebdc"/><stop offset="1" stop-color="#d9f0e5"/></linearGradient>
</defs>
<g clip-path="url(#cpc)">
<rect x="1370" y="46" width="160" height="332" rx="0" fill="#f0f7f4" filter="url(#b14)"/>
<rect x="1255" y="46" width="80" height="150" rx="0" fill="#f4f9f6" filter="url(#b14)"/>
<ellipse cx="1440" cy="110" rx="50" ry="30" fill="#fbfdfc" filter="url(#b14)"/>
<rect x="1210" y="40" width="18" height="345" rx="0" fill="url(#gc_y)" filter="url(#b4)" opacity="0.8"/>
<rect x="1234" y="40" width="18" height="345" rx="0" fill="url(#gc_g2)" filter="url(#b4)"/>
<rect x="1258" y="40" width="24" height="345" rx="0" fill="url(#gc_y)" filter="url(#b4)" opacity="0.6"/>
<path d="M1300,40 L1331,40 L1331,380 L1292,380 L1286,250 L1294,150 Z" fill="url(#gc_or)" filter="url(#b4)"/>
<path d="M1337,40 L1360,40 L1372,150 L1380,200 L1378,300 L1360,330 L1337,335 Z" fill="url(#gc_gr)" filter="url(#b8)"/>
<ellipse cx="1352" cy="205" rx="14" ry="14" fill="#7ccfa6" filter="url(#b4)"/>
<ellipse cx="1420" cy="175" rx="40" ry="12" fill="#d6efe3" filter="url(#b8)" transform="rotate(-40,1420,175)"/>
<ellipse cx="1242" cy="235" rx="6" ry="22" fill="#9fdbbf" filter="url(#b4)"/>
<ellipse cx="1242" cy="300" rx="7" ry="25" fill="#cdebdc" filter="url(#b4)"/>
<ellipse cx="1244" cy="336" rx="6" ry="12" fill="#a7dec4" filter="url(#b4)"/>
<ellipse cx="1220.5" cy="238.9" rx="8" ry="20" fill="#fcd890" filter="url(#b4)"/>
<ellipse cx="1222" cy="343" rx="8" ry="12" fill="#fcd890" filter="url(#b4)"/>
<ellipse cx="1319" cy="326.5" rx="9" ry="18" fill="#f9c060" filter="url(#b4)" transform="rotate(20,1319,326.5)"/>
<ellipse cx="1347" cy="342" rx="12" ry="11" fill="#8ed5b0" filter="url(#b4)"/>
<ellipse cx="1395" cy="245" rx="22" ry="18" fill="#ffffff" filter="url(#b4)"/>
<ellipse cx="1405" cy="240" rx="14" ry="9" fill="#fde6c4" filter="url(#b4)"/>
<path d="M1323.2,158.7C1324.6,158.9 1326.9,158.9 1328.1,162.4C1329.3,165.9 1329.8,173.5 1330.6,179.7C1331.4,185.9 1332.6,193.7 1333.1,199.5C1333.6,205.3 1333.8,208.5 1333.8,214.3C1333.8,220.1 1333.7,227.5 1333.4,234.1C1333.1,240.7 1332.6,248.1 1331.9,253.9C1331.2,259.7 1330,263.9 1329.4,268.8C1328.8,273.8 1328.6,279.4 1328.1,283.6C1327.6,287.8 1327.3,291.4 1326.5,294C1325.7,296.6 1324.6,299 1323.5,299.5C1322.4,300 1321.1,299.2 1320,297C1318.9,294.8 1319.2,290 1317,286.1C1314.8,282.2 1310.8,277.8 1307.1,273.7C1303.4,269.6 1298.6,265 1294.7,261.3C1290.8,257.6 1286.3,254.3 1283.6,251.4C1280.9,248.5 1279.3,246.5 1278.7,244C1278.1,241.5 1278.1,239.9 1279.9,236.6C1281.8,233.3 1286.1,228.7 1289.8,224.2C1293.5,219.7 1298.7,214.3 1302.2,209.4C1305.7,204.5 1308.5,200.3 1310.8,194.5C1313.1,188.7 1314.3,180.3 1315.8,174.7C1317.2,169.1 1318.3,163.8 1319.5,161.1C1320.7,158.4 1321.8,158.5 1323.2,158.7Z" fill="#fccf70" stroke="none" stroke-width="0" filter="url(#b8)" opacity="0.9"/>
<path d="M1323.2,158.7C1324.6,158.9 1326.9,158.9 1328.1,162.4C1329.3,165.9 1329.8,173.5 1330.6,179.7C1331.4,185.9 1332.6,193.7 1333.1,199.5C1333.6,205.3 1333.8,208.5 1333.8,214.3C1333.8,220.1 1333.7,227.5 1333.4,234.1C1333.1,240.7 1332.6,248.1 1331.9,253.9C1331.2,259.7 1330,263.9 1329.4,268.8C1328.8,273.8 1328.6,279.4 1328.1,283.6C1327.6,287.8 1327.3,291.4 1326.5,294C1325.7,296.6 1324.6,299 1323.5,299.5C1322.4,300 1321.1,299.2 1320,297C1318.9,294.8 1319.2,290 1317,286.1C1314.8,282.2 1310.8,277.8 1307.1,273.7C1303.4,269.6 1298.6,265 1294.7,261.3C1290.8,257.6 1286.3,254.3 1283.6,251.4C1280.9,248.5 1279.3,246.5 1278.7,244C1278.1,241.5 1278.1,239.9 1279.9,236.6C1281.8,233.3 1286.1,228.7 1289.8,224.2C1293.5,219.7 1298.7,214.3 1302.2,209.4C1305.7,204.5 1308.5,200.3 1310.8,194.5C1313.1,188.7 1314.3,180.3 1315.8,174.7C1317.2,169.1 1318.3,163.8 1319.5,161.1C1320.7,158.4 1321.8,158.5 1323.2,158.7Z" fill="#f9b64a" stroke="none" stroke-width="0" filter="url(#b4)" opacity="0.9"/>
<path d="M1344.2,197C1347.1,195.3 1352.5,193.7 1356.6,193.3C1360.7,192.9 1365.5,193.7 1369,194.5C1372.5,195.3 1375.8,196.5 1377.6,198.2C1379.4,199.8 1380.1,201.7 1380.1,204.4C1380.1,207.1 1378.6,211 1377.6,214.3C1376.6,217.6 1375.1,220.5 1373.9,224.2C1372.7,227.9 1371.4,232.5 1370.2,236.6C1369,240.7 1368,244.9 1366.5,249C1365,253.1 1363.6,257.8 1361.5,261.3C1359.4,264.8 1356.6,268.4 1354.1,270C1351.6,271.6 1349,271.8 1346.7,271.2C1344.4,270.6 1342.3,268.8 1340.5,266.3C1338.7,263.8 1336.6,260.8 1335.6,256.4C1334.6,252 1334.5,245.7 1334.5,240C1334.5,234.3 1335.1,226.7 1335.5,222C1335.9,217.3 1336.2,215 1336.8,211.9C1337.4,208.8 1338.1,205.7 1339.3,203.2C1340.5,200.7 1341.3,198.7 1344.2,197Z" fill="#8fd5b2" stroke="none" stroke-width="0" filter="url(#b8)" opacity="0.8"/>
<path d="M1344.2,197C1347.1,195.3 1352.5,193.7 1356.6,193.3C1360.7,192.9 1365.5,193.7 1369,194.5C1372.5,195.3 1375.8,196.5 1377.6,198.2C1379.4,199.8 1380.1,201.7 1380.1,204.4C1380.1,207.1 1378.6,211 1377.6,214.3C1376.6,217.6 1375.1,220.5 1373.9,224.2C1372.7,227.9 1371.4,232.5 1370.2,236.6C1369,240.7 1368,244.9 1366.5,249C1365,253.1 1363.6,257.8 1361.5,261.3C1359.4,264.8 1356.6,268.4 1354.1,270C1351.6,271.6 1349,271.8 1346.7,271.2C1344.4,270.6 1342.3,268.8 1340.5,266.3C1338.7,263.8 1336.6,260.8 1335.6,256.4C1334.6,252 1334.5,245.7 1334.5,240C1334.5,234.3 1335.1,226.7 1335.5,222C1335.9,217.3 1336.2,215 1336.8,211.9C1337.4,208.8 1338.1,205.7 1339.3,203.2C1340.5,200.7 1341.3,198.7 1344.2,197Z" fill="#5cc393" stroke="none" stroke-width="0" filter="url(#b4)" opacity="0.9"/>
<path d="M1323.2,158.7C1324.6,158.9 1326.9,158.9 1328.1,162.4C1329.3,165.9 1329.8,173.5 1330.6,179.7C1331.4,185.9 1332.6,193.7 1333.1,199.5C1333.6,205.3 1333.8,208.5 1333.8,214.3C1333.8,220.1 1333.7,227.5 1333.4,234.1C1333.1,240.7 1332.6,248.1 1331.9,253.9C1331.2,259.7 1330,263.9 1329.4,268.8C1328.8,273.8 1328.6,279.4 1328.1,283.6C1327.6,287.8 1327.3,291.4 1326.5,294C1325.7,296.6 1324.6,299 1323.5,299.5C1322.4,300 1321.1,299.2 1320,297C1318.9,294.8 1319.2,290 1317,286.1C1314.8,282.2 1310.8,277.8 1307.1,273.7C1303.4,269.6 1298.6,265 1294.7,261.3C1290.8,257.6 1286.3,254.3 1283.6,251.4C1280.9,248.5 1279.3,246.5 1278.7,244C1278.1,241.5 1278.1,239.9 1279.9,236.6C1281.8,233.3 1286.1,228.7 1289.8,224.2C1293.5,219.7 1298.7,214.3 1302.2,209.4C1305.7,204.5 1308.5,200.3 1310.8,194.5C1313.1,188.7 1314.3,180.3 1315.8,174.7C1317.2,169.1 1318.3,163.8 1319.5,161.1C1320.7,158.4 1321.8,158.5 1323.2,158.7Z" fill="#f8aa3a" stroke="none" stroke-width="0" filter="url(#b1)"/>
<path d="M1323.2,192.1C1325.3,192.3 1328,193.3 1329.4,195.8C1330.9,198.3 1331.4,202 1331.9,206.9C1332.4,211.8 1332.6,218.7 1332.5,225C1332.4,231.3 1332.2,239.8 1331.5,245C1330.8,250.2 1329.5,252.8 1328.1,256.4C1326.7,259.9 1325.2,263.8 1323.2,266.3C1321.2,268.8 1318.5,270.8 1315.8,271.2C1313.1,271.6 1310.2,270.4 1307.1,268.8C1304,267.2 1300.1,264.6 1297.2,261.3C1294.3,258 1291,253.1 1289.8,249C1288.6,244.9 1288.6,241.2 1289.8,236.6C1291,232 1294.3,227.1 1297.2,221.7C1300.1,216.3 1303.8,208.9 1307.1,204.4C1310.4,199.9 1314.3,196.6 1317,194.5C1319.7,192.4 1321.1,191.9 1323.2,192.1Z" fill="#f26a1e" stroke="none" stroke-width="0" filter="url(#b4)"/>
<path d="M1323.2,192.1C1325.3,192.3 1328,193.3 1329.4,195.8C1330.9,198.3 1331.4,202 1331.9,206.9C1332.4,211.8 1332.6,218.7 1332.5,225C1332.4,231.3 1332.2,239.8 1331.5,245C1330.8,250.2 1329.5,252.8 1328.1,256.4C1326.7,259.9 1325.2,263.8 1323.2,266.3C1321.2,268.8 1318.5,270.8 1315.8,271.2C1313.1,271.6 1310.2,270.4 1307.1,268.8C1304,267.2 1300.1,264.6 1297.2,261.3C1294.3,258 1291,253.1 1289.8,249C1288.6,244.9 1288.6,241.2 1289.8,236.6C1291,232 1294.3,227.1 1297.2,221.7C1300.1,216.3 1303.8,208.9 1307.1,204.4C1310.4,199.9 1314.3,196.6 1317,194.5C1319.7,192.4 1321.1,191.9 1323.2,192.1Z" fill="#ec1a10" stroke="none" stroke-width="0" filter="url(#b1)"/>
<path d="M1319.5,209.4C1322.4,209.4 1325.2,211.7 1326.9,214.3C1328.7,216.9 1329.6,220.7 1330,225C1330.4,229.3 1330,235.5 1329.5,240C1329,244.5 1327.8,248.8 1327,252C1326.2,255.2 1326.3,257.3 1324.4,258.9C1322.5,260.4 1318.7,261.7 1315.8,261.3C1312.9,260.9 1309.6,259.3 1307.1,256.4C1304.6,253.5 1301.7,248.5 1300.9,244C1300.1,239.5 1300.8,234.1 1302.2,229.2C1303.7,224.2 1306.7,217.6 1309.6,214.3C1312.5,211 1316.6,209.4 1319.5,209.4Z" fill="#dc0836" stroke="none" stroke-width="0" filter="url(#b1)"/>
<path d="M1318.2,221.7C1321.2,220.6 1323.5,222.3 1325,225C1326.5,227.7 1327.2,234 1327,238C1326.8,242 1324.8,246.3 1324,249C1323.2,251.7 1324,253.3 1322,253.9C1320,254.5 1314.7,254.3 1312,252.7C1309.3,251 1306.7,247.5 1305.9,244C1305.1,240.5 1305,235.3 1307.1,231.6C1309.1,227.9 1315.2,222.8 1318.2,221.7Z" fill="#c8086a" stroke="none" stroke-width="0" filter="url(#b1)"/>
<ellipse cx="1319.5" cy="237.8" rx="6" ry="9" fill="#b8089a" filter="url(#b1)"/>
<path d="M1344.2,197C1347.1,195.3 1352.5,193.7 1356.6,193.3C1360.7,192.9 1365.5,193.7 1369,194.5C1372.5,195.3 1375.8,196.5 1377.6,198.2C1379.4,199.8 1380.1,201.7 1380.1,204.4C1380.1,207.1 1378.6,211 1377.6,214.3C1376.6,217.6 1375.1,220.5 1373.9,224.2C1372.7,227.9 1371.4,232.5 1370.2,236.6C1369,240.7 1368,244.9 1366.5,249C1365,253.1 1363.6,257.8 1361.5,261.3C1359.4,264.8 1356.6,268.4 1354.1,270C1351.6,271.6 1349,271.8 1346.7,271.2C1344.4,270.6 1342.3,268.8 1340.5,266.3C1338.7,263.8 1336.6,260.8 1335.6,256.4C1334.6,252 1334.5,245.7 1334.5,240C1334.5,234.3 1335.1,226.7 1335.5,222C1335.9,217.3 1336.2,215 1336.8,211.9C1337.4,208.8 1338.1,205.7 1339.3,203.2C1340.5,200.7 1341.3,198.7 1344.2,197Z" fill="#5b90d6" stroke="none" stroke-width="0" filter="url(#b1)"/>
<path d="M1346.7,208.1C1349.8,205 1355.6,205.5 1359.1,205.7C1362.6,205.9 1366,207.6 1367.7,209.4C1369.4,211.2 1369.4,213.1 1369,216.8C1368.6,220.5 1366.5,226.7 1365.3,231.6C1364,236.5 1363.2,242.2 1361.5,246.5C1359.8,250.8 1357.7,255.1 1355.4,257.6C1353.1,260.1 1350.2,261.5 1347.9,261.3C1345.6,261.1 1343.1,259.3 1341.7,256.4C1340.3,253.5 1339.5,249.4 1339.3,244C1339.1,238.6 1339.3,230.2 1340.5,224.2C1341.7,218.2 1343.6,211.2 1346.7,208.1Z" fill="#5a66ee" stroke="none" stroke-width="0" filter="url(#b4)"/>
<path d="M1346.7,208.1C1349.8,205 1355.6,205.5 1359.1,205.7C1362.6,205.9 1366,207.6 1367.7,209.4C1369.4,211.2 1369.4,213.1 1369,216.8C1368.6,220.5 1366.5,226.7 1365.3,231.6C1364,236.5 1363.2,242.2 1361.5,246.5C1359.8,250.8 1357.7,255.1 1355.4,257.6C1353.1,260.1 1350.2,261.5 1347.9,261.3C1345.6,261.1 1343.1,259.3 1341.7,256.4C1340.3,253.5 1339.5,249.4 1339.3,244C1339.1,238.6 1339.3,230.2 1340.5,224.2C1341.7,218.2 1343.6,211.2 1346.7,208.1Z" fill="#4a46f6" stroke="none" stroke-width="0" filter="url(#b1)"/>
<path d="M1349.2,216.8C1351.7,214.1 1355.8,214.8 1357.8,215.6C1359.8,216.4 1361.3,217.8 1361.5,221.7C1361.7,225.6 1360.3,234.3 1359.1,239.1C1357.9,243.8 1356,247.9 1354.1,250.2C1352.2,252.5 1349.8,253.3 1347.9,252.7C1346.1,252.1 1343.8,250 1343,246.5C1342.2,243 1342,236.5 1343,231.6C1344,226.7 1346.7,219.5 1349.2,216.8Z" fill="#3070ff" stroke="none" stroke-width="0" filter="url(#b1)"/>
<ellipse cx="1345.5" cy="235.4" rx="5" ry="9" fill="#149cf8" filter="url(#b1)"/>
<ellipse cx="1220.5" cy="238.9" rx="6.8" ry="15.6" fill="#fbc25c" filter="url(#b1)"/>
<ellipse cx="1242.4" cy="235" rx="5.5" ry="17" fill="#7ab8c8" filter="url(#b1)"/>
<ellipse cx="1222.1" cy="343" rx="6.3" ry="9" fill="#fbc25c" filter="url(#b1)"/>
<ellipse cx="1242.4" cy="336.4" rx="4" ry="8.3" fill="#b8dcd8" filter="url(#b1)" transform="rotate(-20,1242.4,336.4)"/>
<ellipse cx="1319.1" cy="326.5" rx="6" ry="14" fill="#fab040" filter="url(#b1)" transform="rotate(20,1319.1,326.5)"/>
<ellipse cx="1347.1" cy="341.9" rx="7.3" ry="6.6" fill="#cfe9e0" filter="url(#b1)"/>
<path d="M1323.2,158.7C1324.6,158.9 1326.9,158.9 1328.1,162.4C1329.3,165.9 1329.8,173.5 1330.6,179.7C1331.4,185.9 1332.6,193.7 1333.1,199.5C1333.6,205.3 1333.8,208.5 1333.8,214.3C1333.8,220.1 1333.7,227.5 1333.4,234.1C1333.1,240.7 1332.6,248.1 1331.9,253.9C1331.2,259.7 1330,263.9 1329.4,268.8C1328.8,273.8 1328.6,279.4 1328.1,283.6C1327.6,287.8 1327.3,291.4 1326.5,294C1325.7,296.6 1324.6,299 1323.5,299.5C1322.4,300 1321.1,299.2 1320,297C1318.9,294.8 1319.2,290 1317,286.1C1314.8,282.2 1310.8,277.8 1307.1,273.7C1303.4,269.6 1298.6,265 1294.7,261.3C1290.8,257.6 1286.3,254.3 1283.6,251.4C1280.9,248.5 1279.3,246.5 1278.7,244C1278.1,241.5 1278.1,239.9 1279.9,236.6C1281.8,233.3 1286.1,228.7 1289.8,224.2C1293.5,219.7 1298.7,214.3 1302.2,209.4C1305.7,204.5 1308.5,200.3 1310.8,194.5C1313.1,188.7 1314.3,180.3 1315.8,174.7C1317.2,169.1 1318.3,163.8 1319.5,161.1C1320.7,158.4 1321.8,158.5 1323.2,158.7Z" fill="none" stroke="#474747" stroke-width="2.25"/>
<path d="M1323.2,192.1C1325.3,192.3 1328,193.3 1329.4,195.8C1330.9,198.3 1331.4,202 1331.9,206.9C1332.4,211.8 1332.6,218.7 1332.5,225C1332.4,231.3 1332.2,239.8 1331.5,245C1330.8,250.2 1329.5,252.8 1328.1,256.4C1326.7,259.9 1325.2,263.8 1323.2,266.3C1321.2,268.8 1318.5,270.8 1315.8,271.2C1313.1,271.6 1310.2,270.4 1307.1,268.8C1304,267.2 1300.1,264.6 1297.2,261.3C1294.3,258 1291,253.1 1289.8,249C1288.6,244.9 1288.6,241.2 1289.8,236.6C1291,232 1294.3,227.1 1297.2,221.7C1300.1,216.3 1303.8,208.9 1307.1,204.4C1310.4,199.9 1314.3,196.6 1317,194.5C1319.7,192.4 1321.1,191.9 1323.2,192.1Z" fill="none" stroke="#474747" stroke-width="2.25"/>
<path d="M1319.5,209.4C1322.4,209.4 1325.2,211.7 1326.9,214.3C1328.7,216.9 1329.6,220.7 1330,225C1330.4,229.3 1330,235.5 1329.5,240C1329,244.5 1327.8,248.8 1327,252C1326.2,255.2 1326.3,257.3 1324.4,258.9C1322.5,260.4 1318.7,261.7 1315.8,261.3C1312.9,260.9 1309.6,259.3 1307.1,256.4C1304.6,253.5 1301.7,248.5 1300.9,244C1300.1,239.5 1300.8,234.1 1302.2,229.2C1303.7,224.2 1306.7,217.6 1309.6,214.3C1312.5,211 1316.6,209.4 1319.5,209.4Z" fill="none" stroke="#474747" stroke-width="2.25"/>
<path d="M1318.2,221.7C1321.2,220.6 1323.5,222.3 1325,225C1326.5,227.7 1327.2,234 1327,238C1326.8,242 1324.8,246.3 1324,249C1323.2,251.7 1324,253.3 1322,253.9C1320,254.5 1314.7,254.3 1312,252.7C1309.3,251 1306.7,247.5 1305.9,244C1305.1,240.5 1305,235.3 1307.1,231.6C1309.1,227.9 1315.2,222.8 1318.2,221.7Z" fill="none" stroke="#474747" stroke-width="2.25"/>
<path d="M1344.2,197C1347.1,195.3 1352.5,193.7 1356.6,193.3C1360.7,192.9 1365.5,193.7 1369,194.5C1372.5,195.3 1375.8,196.5 1377.6,198.2C1379.4,199.8 1380.1,201.7 1380.1,204.4C1380.1,207.1 1378.6,211 1377.6,214.3C1376.6,217.6 1375.1,220.5 1373.9,224.2C1372.7,227.9 1371.4,232.5 1370.2,236.6C1369,240.7 1368,244.9 1366.5,249C1365,253.1 1363.6,257.8 1361.5,261.3C1359.4,264.8 1356.6,268.4 1354.1,270C1351.6,271.6 1349,271.8 1346.7,271.2C1344.4,270.6 1342.3,268.8 1340.5,266.3C1338.7,263.8 1336.6,260.8 1335.6,256.4C1334.6,252 1334.5,245.7 1334.5,240C1334.5,234.3 1335.1,226.7 1335.5,222C1335.9,217.3 1336.2,215 1336.8,211.9C1337.4,208.8 1338.1,205.7 1339.3,203.2C1340.5,200.7 1341.3,198.7 1344.2,197Z" fill="none" stroke="#474747" stroke-width="2.25"/>
<path d="M1346.7,208.1C1349.8,205 1355.6,205.5 1359.1,205.7C1362.6,205.9 1366,207.6 1367.7,209.4C1369.4,211.2 1369.4,213.1 1369,216.8C1368.6,220.5 1366.5,226.7 1365.3,231.6C1364,236.5 1363.2,242.2 1361.5,246.5C1359.8,250.8 1357.7,255.1 1355.4,257.6C1353.1,260.1 1350.2,261.5 1347.9,261.3C1345.6,261.1 1343.1,259.3 1341.7,256.4C1340.3,253.5 1339.5,249.4 1339.3,244C1339.1,238.6 1339.3,230.2 1340.5,224.2C1341.7,218.2 1343.6,211.2 1346.7,208.1Z" fill="none" stroke="#474747" stroke-width="2.25"/>
<path d="M1349.2,216.8C1351.7,214.1 1355.8,214.8 1357.8,215.6C1359.8,216.4 1361.3,217.8 1361.5,221.7C1361.7,225.6 1360.3,234.3 1359.1,239.1C1357.9,243.8 1356,247.9 1354.1,250.2C1352.2,252.5 1349.8,253.3 1347.9,252.7C1346.1,252.1 1343.8,250 1343,246.5C1342.2,243 1342,236.5 1343,231.6C1344,226.7 1346.7,219.5 1349.2,216.8Z" fill="none" stroke="#474747" stroke-width="2.25"/>
<ellipse cx="1319.5" cy="237.8" rx="6" ry="9" fill="none" stroke="#474747" stroke-width="2.25"/>
<ellipse cx="1345.5" cy="235.4" rx="5" ry="9" fill="none" stroke="#474747" stroke-width="2.25"/>
<ellipse cx="1333.5" cy="236" rx="3" ry="7" fill="#474747" filter="url(#b1)"/>
<ellipse cx="1220.5" cy="238.9" rx="6.8" ry="15.6" fill="none" stroke="#474747" stroke-width="2.25"/>
<ellipse cx="1242.4" cy="235" rx="5.5" ry="17" fill="none" stroke="#474747" stroke-width="2.25"/>
<ellipse cx="1222.1" cy="343" rx="6.3" ry="9" fill="none" stroke="#474747" stroke-width="2.25"/>
<ellipse cx="1242.4" cy="336.4" rx="4" ry="8.3" fill="none" stroke="#474747" stroke-width="2.25" transform="rotate(-20,1242.4,336.4)"/>
<ellipse cx="1319.1" cy="326.5" rx="6" ry="14" fill="none" stroke="#474747" stroke-width="2.25" transform="rotate(20,1319.1,326.5)"/>
<ellipse cx="1347.1" cy="341.9" rx="7.3" ry="6.6" fill="none" stroke="#474747" stroke-width="2.25"/>
</g>
<line x1="304.7" y1="46.3" x2="304.7" y2="51.8" stroke="#000" stroke-width="2.0" />
<line x1="304.7" y1="377.4" x2="304.7" y2="371.9" stroke="#000" stroke-width="2.0" />
<line x1="304.7" y1="518.5" x2="304.7" y2="513" stroke="#000" stroke-width="2.0" />
<line x1="379.9" y1="46.3" x2="379.9" y2="56.3" stroke="#000" stroke-width="2.0" />
<line x1="379.9" y1="377.4" x2="379.9" y2="367.4" stroke="#000" stroke-width="2.0" />
<line x1="379.9" y1="518.5" x2="379.9" y2="508.5" stroke="#000" stroke-width="2.0" />
<line x1="455.1" y1="46.3" x2="455.1" y2="51.8" stroke="#000" stroke-width="2.0" />
<line x1="455.1" y1="377.4" x2="455.1" y2="371.9" stroke="#000" stroke-width="2.0" />
<line x1="455.1" y1="518.5" x2="455.1" y2="513" stroke="#000" stroke-width="2.0" />
<line x1="530.4" y1="46.3" x2="530.4" y2="56.3" stroke="#000" stroke-width="2.0" />
<line x1="530.4" y1="377.4" x2="530.4" y2="367.4" stroke="#000" stroke-width="2.0" />
<line x1="530.4" y1="518.5" x2="530.4" y2="508.5" stroke="#000" stroke-width="2.0" />
<line x1="229.4" y1="302.1" x2="234.9" y2="302.1" stroke="#000" stroke-width="2.0" />
<line x1="560.5" y1="302.1" x2="555" y2="302.1" stroke="#000" stroke-width="2.0" />
<line x1="89" y1="302.1" x2="94.5" y2="302.1" stroke="#000" stroke-width="2.0" />
<line x1="229.4" y1="302.1" x2="223.9" y2="302.1" stroke="#000" stroke-width="2.0" />
<line x1="229.4" y1="226.9" x2="239.4" y2="226.9" stroke="#000" stroke-width="2.0" />
<line x1="560.5" y1="226.9" x2="550.5" y2="226.9" stroke="#000" stroke-width="2.0" />
<line x1="89" y1="226.9" x2="99" y2="226.9" stroke="#000" stroke-width="2.0" />
<line x1="229.4" y1="226.9" x2="219.4" y2="226.9" stroke="#000" stroke-width="2.0" />
<line x1="229.4" y1="151.7" x2="234.9" y2="151.7" stroke="#000" stroke-width="2.0" />
<line x1="560.5" y1="151.7" x2="555" y2="151.7" stroke="#000" stroke-width="2.0" />
<line x1="89" y1="151.7" x2="94.5" y2="151.7" stroke="#000" stroke-width="2.0" />
<line x1="229.4" y1="151.7" x2="223.9" y2="151.7" stroke="#000" stroke-width="2.0" />
<line x1="229.4" y1="76.4" x2="239.4" y2="76.4" stroke="#000" stroke-width="2.0" />
<line x1="560.5" y1="76.4" x2="550.5" y2="76.4" stroke="#000" stroke-width="2.0" />
<line x1="89" y1="76.4" x2="99" y2="76.4" stroke="#000" stroke-width="2.0" />
<line x1="229.4" y1="76.4" x2="219.4" y2="76.4" stroke="#000" stroke-width="2.0" />
<line x1="104.4" y1="46.3" x2="104.4" y2="56.3" stroke="#000" stroke-width="2.0" />
<line x1="104.4" y1="377.4" x2="104.4" y2="367.4" stroke="#000" stroke-width="2.0" />
<line x1="135.8" y1="46.3" x2="135.8" y2="51.8" stroke="#000" stroke-width="2.0" />
<line x1="135.8" y1="377.4" x2="135.8" y2="371.9" stroke="#000" stroke-width="2.0" />
<line x1="166.6" y1="46.3" x2="166.6" y2="56.3" stroke="#000" stroke-width="2.0" />
<line x1="166.6" y1="377.4" x2="166.6" y2="367.4" stroke="#000" stroke-width="2.0" />
<line x1="198" y1="46.3" x2="198" y2="51.8" stroke="#000" stroke-width="2.0" />
<line x1="198" y1="377.4" x2="198" y2="371.9" stroke="#000" stroke-width="2.0" />
<line x1="229.4" y1="390.3" x2="239.4" y2="390.3" stroke="#000" stroke-width="2.0" />
<line x1="560.5" y1="390.3" x2="550.5" y2="390.3" stroke="#000" stroke-width="2.0" />
<line x1="229.4" y1="415" x2="234.9" y2="415" stroke="#000" stroke-width="2.0" />
<line x1="560.5" y1="415" x2="555" y2="415" stroke="#000" stroke-width="2.0" />
<line x1="229.4" y1="439.7" x2="239.4" y2="439.7" stroke="#000" stroke-width="2.0" />
<line x1="560.5" y1="439.7" x2="550.5" y2="439.7" stroke="#000" stroke-width="2.0" />
<line x1="229.4" y1="464.4" x2="234.9" y2="464.4" stroke="#000" stroke-width="2.0" />
<line x1="560.5" y1="464.4" x2="555" y2="464.4" stroke="#000" stroke-width="2.0" />
<line x1="229.4" y1="489" x2="239.4" y2="489" stroke="#000" stroke-width="2.0" />
<line x1="560.5" y1="489" x2="550.5" y2="489" stroke="#000" stroke-width="2.0" />
<line x1="229.4" y1="513" x2="234.9" y2="513" stroke="#000" stroke-width="2.0" />
<line x1="560.5" y1="513" x2="555" y2="513" stroke="#000" stroke-width="2.0" />
<path d="M89,46.3 H560.5 V518.5 H229.4 V46.3 M89,46.3 V377.4 H560.5" fill="none" stroke="#000" stroke-width="2.2" stroke-linejoin="miter" stroke-linecap="square"/>
<text transform="translate(230.4,551.9) scale(1,1.04)" font-size="28.0" text-anchor="middle" fill="#000" color="#000" font-weight="normal" >1.5</text>
<text transform="translate(380.9,551.9) scale(1,1.04)" font-size="28.0" text-anchor="middle" fill="#000" color="#000" font-weight="normal" >1.6</text>
<text transform="translate(531.4,551.9) scale(1,1.04)" font-size="28.0" text-anchor="middle" fill="#000" color="#000" font-weight="normal" >1.7</text>
<text transform="translate(394.4,594.4) scale(1,1.025)" font-size="31.9" text-anchor="middle" fill="#000" color="#000" font-weight="normal" >Detection energy (eV)</text>
<line x1="785.5" y1="46.3" x2="785.5" y2="51.8" stroke="#000" stroke-width="2.0" />
<line x1="785.5" y1="377.4" x2="785.5" y2="371.9" stroke="#000" stroke-width="2.0" />
<line x1="785.5" y1="518.5" x2="785.5" y2="513" stroke="#000" stroke-width="2.0" />
<line x1="860.7" y1="46.3" x2="860.7" y2="56.3" stroke="#000" stroke-width="2.0" />
<line x1="860.7" y1="377.4" x2="860.7" y2="367.4" stroke="#000" stroke-width="2.0" />
<line x1="860.7" y1="518.5" x2="860.7" y2="508.5" stroke="#000" stroke-width="2.0" />
<line x1="935.9" y1="46.3" x2="935.9" y2="51.8" stroke="#000" stroke-width="2.0" />
<line x1="935.9" y1="377.4" x2="935.9" y2="371.9" stroke="#000" stroke-width="2.0" />
<line x1="935.9" y1="518.5" x2="935.9" y2="513" stroke="#000" stroke-width="2.0" />
<line x1="1011.2" y1="46.3" x2="1011.2" y2="56.3" stroke="#000" stroke-width="2.0" />
<line x1="1011.2" y1="377.4" x2="1011.2" y2="367.4" stroke="#000" stroke-width="2.0" />
<line x1="1011.2" y1="518.5" x2="1011.2" y2="508.5" stroke="#000" stroke-width="2.0" />
<line x1="710.2" y1="302.1" x2="715.7" y2="302.1" stroke="#000" stroke-width="2.0" />
<line x1="1041.1" y1="302.1" x2="1035.6" y2="302.1" stroke="#000" stroke-width="2.0" />
<line x1="570" y1="302.1" x2="575.5" y2="302.1" stroke="#000" stroke-width="2.0" />
<line x1="710.2" y1="302.1" x2="704.7" y2="302.1" stroke="#000" stroke-width="2.0" />
<line x1="710.2" y1="226.9" x2="720.2" y2="226.9" stroke="#000" stroke-width="2.0" />
<line x1="1041.1" y1="226.9" x2="1031.1" y2="226.9" stroke="#000" stroke-width="2.0" />
<line x1="570" y1="226.9" x2="580" y2="226.9" stroke="#000" stroke-width="2.0" />
<line x1="710.2" y1="226.9" x2="700.2" y2="226.9" stroke="#000" stroke-width="2.0" />
<line x1="710.2" y1="151.7" x2="715.7" y2="151.7" stroke="#000" stroke-width="2.0" />
<line x1="1041.1" y1="151.7" x2="1035.6" y2="151.7" stroke="#000" stroke-width="2.0" />
<line x1="570" y1="151.7" x2="575.5" y2="151.7" stroke="#000" stroke-width="2.0" />
<line x1="710.2" y1="151.7" x2="704.7" y2="151.7" stroke="#000" stroke-width="2.0" />
<line x1="710.2" y1="76.4" x2="720.2" y2="76.4" stroke="#000" stroke-width="2.0" />
<line x1="1041.1" y1="76.4" x2="1031.1" y2="76.4" stroke="#000" stroke-width="2.0" />
<line x1="570" y1="76.4" x2="580" y2="76.4" stroke="#000" stroke-width="2.0" />
<line x1="710.2" y1="76.4" x2="700.2" y2="76.4" stroke="#000" stroke-width="2.0" />
<line x1="605.5" y1="46.3" x2="605.5" y2="51.8" stroke="#000" stroke-width="2.0" />
<line x1="605.5" y1="377.4" x2="605.5" y2="371.9" stroke="#000" stroke-width="2.0" />
<line x1="640.3" y1="46.3" x2="640.3" y2="56.3" stroke="#000" stroke-width="2.0" />
<line x1="640.3" y1="377.4" x2="640.3" y2="367.4" stroke="#000" stroke-width="2.0" />
<line x1="675.9" y1="46.3" x2="675.9" y2="51.8" stroke="#000" stroke-width="2.0" />
<line x1="675.9" y1="377.4" x2="675.9" y2="371.9" stroke="#000" stroke-width="2.0" />
<line x1="710.2" y1="407.1" x2="715.7" y2="407.1" stroke="#000" stroke-width="2.0" />
<line x1="1041.1" y1="407.1" x2="1035.6" y2="407.1" stroke="#000" stroke-width="2.0" />
<line x1="710.2" y1="470.8" x2="715.7" y2="470.8" stroke="#000" stroke-width="2.0" />
<line x1="1041.1" y1="470.8" x2="1035.6" y2="470.8" stroke="#000" stroke-width="2.0" />
<line x1="710.2" y1="502.2" x2="720.2" y2="502.2" stroke="#000" stroke-width="2.0" />
<line x1="1041.1" y1="502.2" x2="1031.1" y2="502.2" stroke="#000" stroke-width="2.0" />
<path d="M570,46.3 H1041.1 V518.5 H710.2 V46.3 M570,46.3 V377.4 H1041.1" fill="none" stroke="#000" stroke-width="2.2" stroke-linejoin="miter" stroke-linecap="square"/>
<text transform="translate(711.2,551.9) scale(1,1.04)" font-size="28.0" text-anchor="middle" fill="#000" color="#000" font-weight="normal" >1.5</text>
<text transform="translate(861.7,551.9) scale(1,1.04)" font-size="28.0" text-anchor="middle" fill="#000" color="#000" font-weight="normal" >1.6</text>
<text transform="translate(1012.2,551.9) scale(1,1.04)" font-size="28.0" text-anchor="middle" fill="#000" color="#000" font-weight="normal" >1.7</text>
<text transform="translate(875.1,594.4) scale(1,1.025)" font-size="31.9" text-anchor="middle" fill="#000" color="#000" font-weight="normal" >Detection energy (eV)</text>
<line x1="1268" y1="46.3" x2="1268" y2="51.8" stroke="#000" stroke-width="2.0" />
<line x1="1268" y1="377.4" x2="1268" y2="371.9" stroke="#000" stroke-width="2.0" />
<line x1="1268" y1="518.5" x2="1268" y2="513" stroke="#000" stroke-width="2.0" />
<line x1="1343.2" y1="46.3" x2="1343.2" y2="56.3" stroke="#000" stroke-width="2.0" />
<line x1="1343.2" y1="377.4" x2="1343.2" y2="367.4" stroke="#000" stroke-width="2.0" />
<line x1="1343.2" y1="518.5" x2="1343.2" y2="508.5" stroke="#000" stroke-width="2.0" />
<line x1="1418.4" y1="46.3" x2="1418.4" y2="51.8" stroke="#000" stroke-width="2.0" />
<line x1="1418.4" y1="377.4" x2="1418.4" y2="371.9" stroke="#000" stroke-width="2.0" />
<line x1="1418.4" y1="518.5" x2="1418.4" y2="513" stroke="#000" stroke-width="2.0" />
<line x1="1493.7" y1="46.3" x2="1493.7" y2="56.3" stroke="#000" stroke-width="2.0" />
<line x1="1493.7" y1="377.4" x2="1493.7" y2="367.4" stroke="#000" stroke-width="2.0" />
<line x1="1493.7" y1="518.5" x2="1493.7" y2="508.5" stroke="#000" stroke-width="2.0" />
<line x1="1192.7" y1="302.1" x2="1198.2" y2="302.1" stroke="#000" stroke-width="2.0" />
<line x1="1524.2" y1="302.1" x2="1518.7" y2="302.1" stroke="#000" stroke-width="2.0" />
<line x1="1053" y1="302.1" x2="1058.5" y2="302.1" stroke="#000" stroke-width="2.0" />
<line x1="1192.7" y1="302.1" x2="1187.2" y2="302.1" stroke="#000" stroke-width="2.0" />
<line x1="1192.7" y1="226.9" x2="1202.7" y2="226.9" stroke="#000" stroke-width="2.0" />
<line x1="1524.2" y1="226.9" x2="1514.2" y2="226.9" stroke="#000" stroke-width="2.0" />
<line x1="1053" y1="226.9" x2="1063" y2="226.9" stroke="#000" stroke-width="2.0" />
<line x1="1192.7" y1="226.9" x2="1182.7" y2="226.9" stroke="#000" stroke-width="2.0" />
<line x1="1192.7" y1="151.7" x2="1198.2" y2="151.7" stroke="#000" stroke-width="2.0" />
<line x1="1524.2" y1="151.7" x2="1518.7" y2="151.7" stroke="#000" stroke-width="2.0" />
<line x1="1053" y1="151.7" x2="1058.5" y2="151.7" stroke="#000" stroke-width="2.0" />
<line x1="1192.7" y1="151.7" x2="1187.2" y2="151.7" stroke="#000" stroke-width="2.0" />
<line x1="1192.7" y1="76.4" x2="1202.7" y2="76.4" stroke="#000" stroke-width="2.0" />
<line x1="1524.2" y1="76.4" x2="1514.2" y2="76.4" stroke="#000" stroke-width="2.0" />
<line x1="1053" y1="76.4" x2="1063" y2="76.4" stroke="#000" stroke-width="2.0" />
<line x1="1192.7" y1="76.4" x2="1182.7" y2="76.4" stroke="#000" stroke-width="2.0" />
<line x1="1066" y1="46.3" x2="1066" y2="51.8" stroke="#000" stroke-width="2.0" />
<line x1="1066" y1="377.4" x2="1066" y2="371.9" stroke="#000" stroke-width="2.0" />
<line x1="1091.3" y1="46.3" x2="1091.3" y2="56.3" stroke="#000" stroke-width="2.0" />
<line x1="1091.3" y1="377.4" x2="1091.3" y2="367.4" stroke="#000" stroke-width="2.0" />
<line x1="1117" y1="46.3" x2="1117" y2="51.8" stroke="#000" stroke-width="2.0" />
<line x1="1117" y1="377.4" x2="1117" y2="371.9" stroke="#000" stroke-width="2.0" />
<line x1="1142.8" y1="46.3" x2="1142.8" y2="56.3" stroke="#000" stroke-width="2.0" />
<line x1="1142.8" y1="377.4" x2="1142.8" y2="367.4" stroke="#000" stroke-width="2.0" />
<line x1="1167.9" y1="46.3" x2="1167.9" y2="51.8" stroke="#000" stroke-width="2.0" />
<line x1="1167.9" y1="377.4" x2="1167.9" y2="371.9" stroke="#000" stroke-width="2.0" />
<line x1="1192.7" y1="394.6" x2="1202.7" y2="394.6" stroke="#000" stroke-width="2.0" />
<line x1="1524.2" y1="394.6" x2="1514.2" y2="394.6" stroke="#000" stroke-width="2.0" />
<line x1="1192.7" y1="417.3" x2="1198.2" y2="417.3" stroke="#000" stroke-width="2.0" />
<line x1="1524.2" y1="417.3" x2="1518.7" y2="417.3" stroke="#000" stroke-width="2.0" />
<line x1="1192.7" y1="461.7" x2="1198.2" y2="461.7" stroke="#000" stroke-width="2.0" />
<line x1="1524.2" y1="461.7" x2="1518.7" y2="461.7" stroke="#000" stroke-width="2.0" />
<line x1="1192.7" y1="484" x2="1202.7" y2="484" stroke="#000" stroke-width="2.0" />
<line x1="1524.2" y1="484" x2="1514.2" y2="484" stroke="#000" stroke-width="2.0" />
<line x1="1192.7" y1="506.2" x2="1198.2" y2="506.2" stroke="#000" stroke-width="2.0" />
<line x1="1524.2" y1="506.2" x2="1518.7" y2="506.2" stroke="#000" stroke-width="2.0" />
<path d="M1053,46.3 H1524.2 V518.5 H1192.7 V46.3 M1053,46.3 V377.4 H1524.2" fill="none" stroke="#000" stroke-width="2.2" stroke-linejoin="miter" stroke-linecap="square"/>
<text transform="translate(1193.7,551.9) scale(1,1.04)" font-size="28.0" text-anchor="middle" fill="#000" color="#000" font-weight="normal" >1.5</text>
<text transform="translate(1344.2,551.9) scale(1,1.04)" font-size="28.0" text-anchor="middle" fill="#000" color="#000" font-weight="normal" >1.6</text>
<text transform="translate(1494.7,551.9) scale(1,1.04)" font-size="28.0" text-anchor="middle" fill="#000" color="#000" font-weight="normal" >1.7</text>
<text transform="translate(1358,594.4) scale(1,1.025)" font-size="31.9" text-anchor="middle" fill="#000" color="#000" font-weight="normal" >Detection energy (eV)</text>
<text transform="translate(59.5,387.4) scale(1,1.04)" font-size="28.0" text-anchor="middle" fill="#000" color="#000" font-weight="normal" >1.5</text>
<text transform="translate(59.5,236.9) scale(1,1.04)" font-size="28.0" text-anchor="middle" fill="#000" color="#000" font-weight="normal" >1.6</text>
<text transform="translate(59.5,86.4) scale(1,1.04)" font-size="28.0" text-anchor="middle" fill="#000" color="#000" font-weight="normal" >1.7</text>
<text transform="translate(28.5,209.8) rotate(-90) scale(1,1.025)" font-size="32.4" text-anchor="middle" fill="#000" color="#000" font-weight="normal" >Excitation energy (eV)</text>
<text transform="translate(233.5,29.8) scale(1,1.0)" font-size="32.5" text-anchor="start" fill="#000" color="#000" font-weight="bold" >a</text>
<text transform="translate(714.5,29.8) scale(1,1.0)" font-size="32.5" text-anchor="start" fill="#000" color="#000" font-weight="bold" >b</text>
<text transform="translate(1197,29.8) scale(1,1.0)" font-size="32.5" text-anchor="start" fill="#000" color="#000" font-weight="bold" >c</text>
<text transform="translate(1637.5,29.8) scale(1,1.0)" font-size="32.5" text-anchor="start" fill="#000" color="#000" font-weight="bold" >d</text>
<defs><linearGradient id="cbg" x1="0" x2="1" y1="0" y2="0">
<stop offset="0" stop-color="#0898f8"/><stop offset="0.106" stop-color="#1a88ff"/>
<stop offset="0.21" stop-color="#3060ff"/><stop offset="0.313" stop-color="#4a40ff"/>
<stop offset="0.365" stop-color="#6070e0"/><stop offset="0.417" stop-color="#80b0c0"/>
<stop offset="0.443" stop-color="#90e0b0"/><stop offset="0.469" stop-color="#ffffff"/>
<stop offset="0.495" stop-color="#fff0c0"/><stop offset="0.526" stop-color="#ffd040"/>
<stop offset="0.557" stop-color="#f8a030"/><stop offset="0.588" stop-color="#f05020"/>
<stop offset="0.624" stop-color="#ee0010"/><stop offset="0.70" stop-color="#e8001c"/>
<stop offset="0.78" stop-color="#e00040"/><stop offset="0.86" stop-color="#d00060"/>
<stop offset="1" stop-color="#c000b8"/></linearGradient></defs>
<rect x="463.4" y="4.4" width="95.8" height="14.1" fill="url(#cbg)" stroke="#000" stroke-width="2"/>
<line x1="475.4" y1="18" x2="475.4" y2="11.5" stroke="#000" stroke-width="1.3" />
<text transform="translate(475.7,43.3) scale(1,1.04)" font-size="21.5" text-anchor="middle" fill="#000" color="#000" font-weight="normal" >-5</text>
<line x1="508.5" y1="18" x2="508.5" y2="11.5" stroke="#000" stroke-width="1.3" />
<text transform="translate(508.8,43.3) scale(1,1.04)" font-size="21.5" text-anchor="middle" fill="#000" color="#000" font-weight="normal" >0</text>
<line x1="543.5" y1="18" x2="543.5" y2="11.5" stroke="#000" stroke-width="1.3" />
<text transform="translate(543.8,43.3) scale(1,1.04)" font-size="21.5" text-anchor="middle" fill="#000" color="#000" font-weight="normal" >5</text>
<text transform="translate(407,23.9) scale(1,1.04)" font-size="28.5" text-anchor="start" fill="#000" color="#000" font-weight="normal" >A<tspan font-size="20" dy="7.5">2D</tspan></text>
<rect x="944.4" y="4.4" width="95.6" height="14.1" fill="url(#cbg)" stroke="#000" stroke-width="2"/>
<line x1="956.3" y1="18" x2="956.3" y2="11.5" stroke="#000" stroke-width="1.3" />
<text transform="translate(956.6,43.3) scale(1,1.04)" font-size="21.5" text-anchor="middle" fill="#000" color="#000" font-weight="normal" >-2</text>
<line x1="989.5" y1="18" x2="989.5" y2="11.5" stroke="#000" stroke-width="1.3" />
<text transform="translate(989.8,43.3) scale(1,1.04)" font-size="21.5" text-anchor="middle" fill="#000" color="#000" font-weight="normal" >0</text>
<line x1="1022.9" y1="18" x2="1022.9" y2="11.5" stroke="#000" stroke-width="1.3" />
<text transform="translate(1023.2,43.3) scale(1,1.04)" font-size="21.5" text-anchor="middle" fill="#000" color="#000" font-weight="normal" >2</text>
<text transform="translate(887.2,26) scale(1,1.04)" font-size="28.5" text-anchor="start" fill="#000" color="#000" font-weight="normal" >A<tspan font-size="20" dy="7.5">2D</tspan></text>
<rect x="1427.4" y="4.4" width="95.4" height="14.1" fill="url(#cbg)" stroke="#000" stroke-width="2"/>
<line x1="1433.7" y1="18" x2="1433.7" y2="11.5" stroke="#000" stroke-width="1.3" />
<text transform="translate(1434,43.3) scale(1,1.04)" font-size="21.5" text-anchor="middle" fill="#000" color="#000" font-weight="normal" >-4</text>
<line x1="1472.6" y1="18" x2="1472.6" y2="11.5" stroke="#000" stroke-width="1.3" />
<text transform="translate(1472.9,43.3) scale(1,1.04)" font-size="21.5" text-anchor="middle" fill="#000" color="#000" font-weight="normal" >0</text>
<line x1="1511.4" y1="18" x2="1511.4" y2="11.5" stroke="#000" stroke-width="1.3" />
<text transform="translate(1511.7,43.3) scale(1,1.04)" font-size="21.5" text-anchor="middle" fill="#000" color="#000" font-weight="normal" >4</text>
<text transform="translate(1368.5,26) scale(1,1.04)" font-size="28.5" text-anchor="start" fill="#000" color="#000" font-weight="normal" >A<tspan font-size="20" dy="7.5">2D</tspan></text>
<text transform="translate(126.6,425) scale(1,1.04)" font-size="31" text-anchor="start" fill="#000" color="#000" font-weight="normal" >A<tspan font-size="21.5" dy="8.5">2D</tspan></text>
<text transform="translate(606.7,425) scale(1,1.04)" font-size="31" text-anchor="start" fill="#000" color="#000" font-weight="normal" >A<tspan font-size="21.5" dy="8.5">2D</tspan></text>
<text transform="translate(1102.5,419.5) scale(1,1.04)" font-size="31" text-anchor="start" fill="#000" color="#000" font-weight="normal" >A<tspan font-size="21.5" dy="8.5">2D</tspan></text>
<path d="M1629.5,342.5 V517.6 H2038.6 V342.5 M1629.5,335.5 V46.3 H2038.6 V335.5" fill="none" stroke="#000" stroke-width="2.2" stroke-linecap="square"/>
<line x1="1620.5" y1="340" x2="1638.5" y2="333" stroke="#000" stroke-width="2" />
<line x1="1620.5" y1="346" x2="1638.5" y2="339" stroke="#000" stroke-width="2" />
<line x1="2029.6" y1="340" x2="2047.6" y2="333" stroke="#000" stroke-width="2" />
<line x1="2029.6" y1="346" x2="2047.6" y2="339" stroke="#000" stroke-width="2" />
<line x1="1642.7" y1="517.6" x2="1642.7" y2="507.6" stroke="#000" stroke-width="2.0" />
<line x1="1642.7" y1="46.3" x2="1642.7" y2="56.3" stroke="#000" stroke-width="2.0" />
<line x1="1706.5" y1="517.6" x2="1706.5" y2="512.1" stroke="#000" stroke-width="2.0" />
<line x1="1706.5" y1="46.3" x2="1706.5" y2="51.8" stroke="#000" stroke-width="2.0" />
<line x1="1770.4" y1="517.6" x2="1770.4" y2="507.6" stroke="#000" stroke-width="2.0" />
<line x1="1770.4" y1="46.3" x2="1770.4" y2="56.3" stroke="#000" stroke-width="2.0" />
<line x1="1834.2" y1="517.6" x2="1834.2" y2="512.1" stroke="#000" stroke-width="2.0" />
<line x1="1834.2" y1="46.3" x2="1834.2" y2="51.8" stroke="#000" stroke-width="2.0" />
<line x1="1898.1" y1="517.6" x2="1898.1" y2="507.6" stroke="#000" stroke-width="2.0" />
<line x1="1898.1" y1="46.3" x2="1898.1" y2="56.3" stroke="#000" stroke-width="2.0" />
<line x1="1962" y1="517.6" x2="1962" y2="512.1" stroke="#000" stroke-width="2.0" />
<line x1="1962" y1="46.3" x2="1962" y2="51.8" stroke="#000" stroke-width="2.0" />
<line x1="2025.8" y1="517.6" x2="2025.8" y2="507.6" stroke="#000" stroke-width="2.0" />
<line x1="2025.8" y1="46.3" x2="2025.8" y2="56.3" stroke="#000" stroke-width="2.0" />
<line x1="1629.5" y1="310.6" x2="1639.5" y2="310.6" stroke="#000" stroke-width="2.0" />
<line x1="2038.6" y1="310.6" x2="2028.6" y2="310.6" stroke="#000" stroke-width="2.0" />
<line x1="1629.5" y1="260.8" x2="1635" y2="260.8" stroke="#000" stroke-width="2.0" />
<line x1="2038.6" y1="260.8" x2="2033.1" y2="260.8" stroke="#000" stroke-width="2.0" />
<line x1="1629.5" y1="210.9" x2="1639.5" y2="210.9" stroke="#000" stroke-width="2.0" />
<line x1="2038.6" y1="210.9" x2="2028.6" y2="210.9" stroke="#000" stroke-width="2.0" />
<line x1="1629.5" y1="161.1" x2="1635" y2="161.1" stroke="#000" stroke-width="2.0" />
<line x1="2038.6" y1="161.1" x2="2033.1" y2="161.1" stroke="#000" stroke-width="2.0" />
<line x1="1629.5" y1="111.2" x2="1639.5" y2="111.2" stroke="#000" stroke-width="2.0" />
<line x1="2038.6" y1="111.2" x2="2028.6" y2="111.2" stroke="#000" stroke-width="2.0" />
<line x1="1629.5" y1="492.4" x2="1639.5" y2="492.4" stroke="#000" stroke-width="2.0" />
<line x1="2038.6" y1="492.4" x2="2028.6" y2="492.4" stroke="#000" stroke-width="2.0" />
<line x1="1629.5" y1="443" x2="1639.5" y2="443" stroke="#000" stroke-width="2.0" />
<line x1="2038.6" y1="443" x2="2028.6" y2="443" stroke="#000" stroke-width="2.0" />
<line x1="1629.5" y1="393.7" x2="1639.5" y2="393.7" stroke="#000" stroke-width="2.0" />
<line x1="2038.6" y1="393.7" x2="2028.6" y2="393.7" stroke="#000" stroke-width="2.0" />
<text transform="translate(1643.2,551.9) scale(1,1.04)" font-size="28.0" text-anchor="middle" fill="#000" color="#000" font-weight="normal" >15</text>
<text transform="translate(1770.9,551.9) scale(1,1.04)" font-size="28.0" text-anchor="middle" fill="#000" color="#000" font-weight="normal" >20</text>
<text transform="translate(1898.6,551.9) scale(1,1.04)" font-size="28.0" text-anchor="middle" fill="#000" color="#000" font-weight="normal" >25</text>
<text transform="translate(2026.3,551.9) scale(1,1.04)" font-size="28.0" text-anchor="middle" fill="#000" color="#000" font-weight="normal" >30</text>
<text transform="translate(1834,594.6) scale(1,1.025)" font-size="31.9" text-anchor="middle" fill="#000" color="#000" font-weight="normal" >Angle (°)</text>
<text transform="translate(1598,320.6) scale(1,1.04)" font-size="28.0" text-anchor="middle" fill="#000" color="#000" font-weight="normal" >3.0</text>
<text transform="translate(1598,220.9) scale(1,1.04)" font-size="28.0" text-anchor="middle" fill="#000" color="#000" font-weight="normal" >3.2</text>
<text transform="translate(1598,121.2) scale(1,1.04)" font-size="28.0" text-anchor="middle" fill="#000" color="#000" font-weight="normal" >3.4</text>
<text transform="translate(1598,502.4) scale(1,1.04)" font-size="28.0" text-anchor="middle" fill="#000" color="#000" font-weight="normal" >1.5</text>
<text transform="translate(1598,403.7) scale(1,1.04)" font-size="28.0" text-anchor="middle" fill="#000" color="#000" font-weight="normal" >1.7</text>
<text transform="translate(1568.2,279.5) rotate(-90) scale(1,1.025)" font-size="32.8" text-anchor="middle" fill="#000" color="#000" font-weight="normal" >Energy (eV)</text>
<path d="M1641,66.4C1649.2,72 1673.5,88.9 1690,100C1706.5,111.1 1723.3,122.5 1740,133C1756.7,143.5 1773.3,154.4 1790,163C1806.7,171.6 1823.3,178.2 1840,184.6C1856.7,191 1872,197 1890,201.6C1908,206.2 1929.6,209.8 1947.8,212.3C1966,214.8 1984,215.4 1999,216.4C2014,217.4 2031.5,218.1 2038,218.4" fill="none" stroke="#3cba6a" stroke-width="2.6" stroke-linejoin="round"/>
<path d="M1641.4,143.9C1654.2,148 1692.5,159.9 1718,168.3C1743.5,176.7 1774.3,188.4 1794.6,194.4C1814.9,200.4 1824.1,201.2 1840,204.5C1855.9,207.8 1872,211.6 1890,213.9C1908,216.2 1929.6,217.1 1947.8,218.1C1966,219.1 1984,219.8 1999,220.2C2014,220.6 2031.5,220.4 2038,220.5" fill="none" stroke="#000" stroke-width="2.6" stroke-linejoin="round"/>
<path d="M1641.4,151.1C1654.2,155.2 1694.9,167.8 1718,175.7C1741.1,183.5 1759.7,191.1 1780,198.2C1800.3,205.3 1821.7,212.7 1840,218.5C1858.3,224.3 1872,228 1890,233.2C1908,238.3 1929.6,244.5 1947.8,249.4C1966,254.3 1984,258.7 1999,262.6C2014,266.5 2031.5,271.1 2038,272.8" fill="none" stroke="#a010b4" stroke-width="2.6" stroke-linejoin="round"/>
<line x1="1641" y1="223" x2="2038" y2="223" stroke="#ee1111" stroke-width="2.6" />
<path d="M1641,228.3C1653.8,228.7 1692.4,229.6 1718,230.5C1743.6,231.4 1774.3,232.9 1794.6,234C1814.9,235.1 1824.1,235.6 1840,237C1855.9,238.4 1872,239.7 1890,242.5C1908,245.3 1929.6,250 1947.8,253.6C1966,257.2 1984,260.5 1999,264C2014,267.5 2031.5,272.7 2038,274.4" fill="none" stroke="#858585" stroke-width="2.6" stroke-linejoin="round"/>
<path d="M1641,235.1C1653.8,235.4 1692.4,236 1718,237.2C1743.6,238.4 1774.3,240.4 1794.6,242.5C1814.9,244.6 1822.9,246.2 1840,250C1857.1,253.8 1878.9,259.6 1897,265.1C1915.1,270.6 1931.5,276.5 1948.5,282.9C1965.5,289.3 1984.1,296.6 1999,303.5C2013.9,310.4 2031.5,320.6 2038,324" fill="none" stroke="#3a6ea8" stroke-width="2.6" stroke-linejoin="round"/>
<path d="M1641.5,372C1654.2,376.1 1692.5,388.8 1718,396.9C1743.5,405 1774,414.9 1794.3,420.5C1814.6,426.1 1822.4,427.4 1840,430.2C1857.6,433 1881.7,435.1 1900,437.1C1918.3,439.1 1933.3,440.7 1950,442C1966.7,443.3 1985.3,444.2 2000,444.7C2014.7,445.2 2031.7,444.9 2038,445" fill="none" stroke="#3cba6a" stroke-width="2.6" stroke-linejoin="round"/>
<line x1="1641" y1="448.6" x2="2038" y2="448.6" stroke="#ee1111" stroke-width="2.6" />
<path d="M1641.5,455.1C1654.2,455.3 1694.9,455.7 1718,456.2C1741.1,456.7 1767.3,457.4 1780,457.9C1792.7,458.4 1784.3,458.5 1794.3,459.3C1804.3,460.1 1822.8,461.1 1840,462.8C1857.2,464.5 1879.5,466.9 1897.6,469.7C1915.7,472.5 1931.8,475.9 1948.8,479.4C1965.8,482.9 1984.9,487 1999.8,490.5C2014.7,494 2031.6,498.6 2038,500.2" fill="none" stroke="#3a6ea8" stroke-width="2.6" stroke-linejoin="round"/>
<circle cx="1641.4" cy="134.1" r="6.5" fill="none" stroke="#000" stroke-width="3.0"/>
<circle cx="1641.4" cy="139.2" r="6.5" fill="none" stroke="#000" stroke-width="3.0"/>
<circle cx="1718" cy="158.8" r="6.5" fill="none" stroke="#000" stroke-width="3.0"/>
<circle cx="1718" cy="163.8" r="6.5" fill="none" stroke="#000" stroke-width="3.0"/>
<circle cx="1794.6" cy="191.4" r="6.5" fill="none" stroke="#000" stroke-width="3.0"/>
<circle cx="1718" cy="227.7" r="6.5" fill="none" stroke="#858585" stroke-width="3.0"/>
<circle cx="1718" cy="230.6" r="6.5" fill="none" stroke="#858585" stroke-width="3.0"/>
<circle cx="1794.6" cy="233.6" r="6.5" fill="none" stroke="#858585" stroke-width="3.0"/>
<circle cx="1794.6" cy="238" r="6.5" fill="none" stroke="#858585" stroke-width="3.0"/>
<circle cx="1896.6" cy="242.5" r="6.5" fill="none" stroke="#858585" stroke-width="3.0"/>
<circle cx="1948.6" cy="251.1" r="6.5" fill="none" stroke="#858585" stroke-width="3.0"/>
<circle cx="1948.6" cy="252.5" r="6.5" fill="none" stroke="#858585" stroke-width="3.0"/>
<circle cx="1999.3" cy="261.8" r="6.5" fill="none" stroke="#858585" stroke-width="3.0"/>
<circle cx="1999.3" cy="263.5" r="6.5" fill="none" stroke="#858585" stroke-width="3.0"/>
<circle cx="2025.4" cy="267.6" r="6.5" fill="none" stroke="#858585" stroke-width="3.0"/>
<circle cx="2025.4" cy="269" r="6.5" fill="none" stroke="#858585" stroke-width="3.0"/>
<circle cx="1641.4" cy="233.6" r="6.5" fill="none" stroke="#3a6ea8" stroke-width="3.0"/>
<circle cx="1718" cy="239.5" r="6.5" fill="none" stroke="#3a6ea8" stroke-width="3.0"/>
<circle cx="1794.6" cy="247.9" r="6.5" fill="none" stroke="#3a6ea8" stroke-width="3.0"/>
<circle cx="1896.9" cy="265.1" r="6.5" fill="none" stroke="#3a6ea8" stroke-width="3.0"/>
<circle cx="1948.5" cy="282.9" r="6.5" fill="none" stroke="#3a6ea8" stroke-width="3.0"/>
<circle cx="1999.2" cy="303.5" r="6.5" fill="none" stroke="#3a6ea8" stroke-width="3.0"/>
<circle cx="2025.2" cy="317.5" r="6.5" fill="none" stroke="#3a6ea8" stroke-width="3.0"/>
<circle cx="1641.4" cy="217.3" r="6.5" fill="none" stroke="#ee1111" stroke-width="3.0"/>
<circle cx="1718" cy="218.2" r="6.5" fill="none" stroke="#ee1111" stroke-width="3.0"/>
<circle cx="1794.6" cy="221.1" r="6.5" fill="none" stroke="#ee1111" stroke-width="3.0"/>
<circle cx="1897.4" cy="218.4" r="6.5" fill="none" stroke="#ee1111" stroke-width="3.0"/>
<circle cx="1948.6" cy="218.4" r="6.5" fill="none" stroke="#ee1111" stroke-width="3.0"/>
<circle cx="1999.3" cy="219.4" r="6.5" fill="none" stroke="#ee1111" stroke-width="3.0"/>
<circle cx="2025.4" cy="217.2" r="6.5" fill="none" stroke="#ee1111" stroke-width="3.0"/>
<circle cx="1641.5" cy="366.8" r="6.5" fill="none" stroke="#3cba6a" stroke-width="3.0"/>
<circle cx="1718" cy="393.5" r="6.5" fill="none" stroke="#3cba6a" stroke-width="3.0"/>
<circle cx="1794.3" cy="418" r="6.5" fill="none" stroke="#3cba6a" stroke-width="3.0"/>
<circle cx="1641.5" cy="456.2" r="6.5" fill="none" stroke="#3a6ea8" stroke-width="3.0"/>
<circle cx="1718" cy="456.9" r="6.5" fill="none" stroke="#3a6ea8" stroke-width="3.0"/>
<circle cx="1794.3" cy="462.1" r="6.5" fill="none" stroke="#3a6ea8" stroke-width="3.0"/>
<circle cx="1897.6" cy="469.7" r="6.5" fill="none" stroke="#3a6ea8" stroke-width="3.0"/>
<circle cx="1948.8" cy="479.4" r="6.5" fill="none" stroke="#3a6ea8" stroke-width="3.0"/>
<circle cx="1999.8" cy="490.5" r="6.5" fill="none" stroke="#3a6ea8" stroke-width="3.0"/>
<circle cx="2025.8" cy="497.4" r="6.5" fill="none" stroke="#3a6ea8" stroke-width="3.0"/>
<circle cx="1641.5" cy="445.4" r="6.5" fill="none" stroke="#ee1111" stroke-width="3.0"/>
<circle cx="1718" cy="446.5" r="6.5" fill="none" stroke="#ee1111" stroke-width="3.0"/>
<circle cx="1794.3" cy="448.9" r="6.5" fill="none" stroke="#ee1111" stroke-width="3.0"/>
<circle cx="1897.6" cy="447.2" r="6.5" fill="none" stroke="#ee1111" stroke-width="3.0"/>
<circle cx="1948.8" cy="445.4" r="6.5" fill="none" stroke="#ee1111" stroke-width="3.0"/>
<circle cx="1999.8" cy="445.4" r="6.5" fill="none" stroke="#ee1111" stroke-width="3.0"/>
<circle cx="2025.8" cy="445.4" r="6.5" fill="none" stroke="#ee1111" stroke-width="3.0"/>
<text transform="translate(1712,102.1) scale(1,1.04)" font-size="27.8" text-anchor="start" fill="#3cba6a" color="#3cba6a" font-weight="normal" >2UP</text>
<text transform="translate(1654,146.3) scale(1,1.04)" font-size="27.8" text-anchor="start" fill="#000" color="#000" font-weight="normal" >UP/X</text>
<text transform="translate(1647,205) scale(1,1.04)" font-size="27.8" text-anchor="start" fill="#a010b4" color="#a010b4" font-weight="normal" >UP/LP</text>
<text transform="translate(1966.3,166.3) scale(1,1.0)" font-size="32.5" text-anchor="start" fill="#000" color="#000" font-weight="bold" >2Q</text>
<text transform="translate(1990.5,203.2) scale(1,1.04)" font-size="27.8" text-anchor="start" fill="#ee1111" color="#ee1111" font-weight="normal" >XX</text>
<text transform="translate(1972,253.5) scale(1,1.04)" font-size="27.8" text-anchor="start" fill="#858585" color="#858585" font-weight="normal" >LP/X</text>
<text transform="translate(1936,330) scale(1,1.04)" font-size="27.8" text-anchor="start" fill="#3a6ea8" color="#3a6ea8" font-weight="normal" >2LP</text>
<text transform="translate(1680,366.8) scale(1,1.04)" font-size="27.8" text-anchor="start" fill="#3cba6a" color="#3cba6a" font-weight="normal" >UP</text>
<text transform="translate(1659.5,434.3) scale(1,1.04)" font-size="27.8" text-anchor="start" fill="#ee1111" color="#ee1111" font-weight="normal" >X</text>
<text transform="translate(1969.3,416.6) scale(1,1.0)" font-size="32.5" text-anchor="start" fill="#000" color="#000" font-weight="bold" >1Q</text>
<text transform="translate(1832.5,501.9) scale(1,1.04)" font-size="27.8" text-anchor="start" fill="#3a6ea8" color="#3a6ea8" font-weight="normal" >LP</text>
<line x1="229.4" y1="440" x2="560.5" y2="440" stroke="#000" stroke-width="2.2" />
<line x1="710.2" y1="439.7" x2="1041.1" y2="439.7" stroke="#000" stroke-width="2.2" />
<line x1="1192.7" y1="439.7" x2="1524.2" y2="439.7" stroke="#000" stroke-width="2.2" />
<line x1="229.4" y1="377.4" x2="560.5" y2="46.3" stroke="#000" stroke-width="1.2" stroke-dasharray="5,3.6"/>
<line x1="289" y1="76.5" x2="551" y2="76.5" stroke="#000" stroke-width="1.2" stroke-dasharray="5,3.6" opacity="1"/>
<line x1="89" y1="76.5" x2="229.4" y2="76.5" stroke="#000" stroke-width="1.2" stroke-dasharray="5,3.6" opacity="1"/>
<line x1="89" y1="237.7" x2="551" y2="237.7" stroke="#111" stroke-width="1.2" stroke-dasharray="5,3.6" opacity="1"/>
<line x1="89" y1="270.7" x2="551" y2="270.7" stroke="#333" stroke-width="1.2" stroke-dasharray="5,3.6" opacity="1"/>
<line x1="334.8" y1="46.3" x2="334.8" y2="518.5" stroke="#333" stroke-width="1.2" stroke-dasharray="5,3.6" opacity="1"/>
<line x1="365.4" y1="46.3" x2="365.4" y2="518.5" stroke="#222" stroke-width="1.2" stroke-dasharray="5,3.6" opacity="1"/>
<line x1="530.2" y1="46.3" x2="530.2" y2="440" stroke="#222" stroke-width="1.2" stroke-dasharray="5,3.6" opacity="1"/>
<line x1="506.6" y1="48" x2="506.6" y2="377" stroke="#ee1111" stroke-width="2.6" stroke-dasharray="4,2.6"/>
<line x1="506.6" y1="383.5" x2="506.6" y2="438" stroke="#ee1111" stroke-width="2.6" stroke-dasharray="4,2.6"/>
<line x1="710.2" y1="377.4" x2="1041.1" y2="46.3" stroke="#000" stroke-width="1.2" stroke-dasharray="5,3.6"/>
<line x1="570" y1="153.4" x2="1041" y2="153.4" stroke="#000" stroke-width="1.2" stroke-dasharray="5,3.6" opacity="1"/>
<line x1="570" y1="247" x2="1041" y2="247" stroke="#333" stroke-width="1.2" stroke-dasharray="5,3.6" opacity="1"/>
<line x1="570" y1="286" x2="1041" y2="286" stroke="#333" stroke-width="1.2" stroke-dasharray="5,3.6" opacity="1"/>
<line x1="809.5" y1="46.3" x2="809.5" y2="518.5" stroke="#000" stroke-width="1.2" stroke-dasharray="5,3.6" opacity="1"/>
<line x1="843.2" y1="46.3" x2="843.2" y2="518.5" stroke="#555" stroke-width="1.2" stroke-dasharray="5,3.6" opacity="1"/>
<line x1="934.7" y1="46.3" x2="934.7" y2="440" stroke="#000" stroke-width="1.2" stroke-dasharray="5,3.6" opacity="1"/>
<line x1="1192.7" y1="377.4" x2="1524.2" y2="46.3" stroke="#000" stroke-width="1.2" stroke-dasharray="5,3.6"/>
<line x1="1053" y1="239.2" x2="1524" y2="239.2" stroke="#333" stroke-width="1.2" stroke-dasharray="5,3.6" opacity="1"/>
<line x1="1053" y1="340" x2="1524" y2="340" stroke="#333" stroke-width="1.2" stroke-dasharray="5,3.6" opacity="1"/>
<line x1="1234.7" y1="94" x2="1234.7" y2="518.5" stroke="#000" stroke-width="1.2" stroke-dasharray="5,3.6" opacity="1"/>
<line x1="1332.6" y1="46.3" x2="1332.6" y2="518.5" stroke="#000" stroke-width="1.2" stroke-dasharray="5,3.6" opacity="1"/>
<path d="M226.2,46.5C225.6,51.6 224.2,67 222.8,77.3C221.5,87.6 219.7,98.6 218.1,108.5C216.5,118.4 214.5,129.8 213.4,136.6C212.3,143.3 211.7,144.3 211.3,149C210.9,153.7 211.9,159.6 211.2,164.8C210.5,170 208.9,175.7 207.2,180.4C205.5,185.1 203,189.1 200.9,192.9C198.8,196.7 197.4,199.8 194.7,203.1C192,206.4 189.2,209.2 184.8,213C180.4,216.8 172.4,222.3 168.3,226.2C164.2,230 162.5,232.5 160,236.1C157.5,239.7 157,244.7 153.4,247.7C149.8,250.7 143.2,252.4 138.5,254.3C133.8,256.2 129.2,257.7 125.3,259.3C121.5,260.9 117.6,262.6 115.4,264.2C113.2,265.8 111.8,267.8 112.1,269.2C112.4,270.6 113.8,271.1 117.1,272.5C120.4,273.9 125.7,275.5 132,277.4C138.3,279.3 147.8,282.1 155,284C162.2,285.9 168.8,287.1 174.9,289C181,290.9 186.5,293.1 191.4,295.6C196.3,298.1 200.5,300.5 204.6,303.8C208.7,307.1 212.8,311.3 216.1,315.4C219.4,319.5 222.6,323.7 224.4,328.6C226.2,333.5 226.4,336.9 227,345C227.6,353.1 227.6,371.7 227.7,377" fill="none" stroke="#000" stroke-width="2.2" stroke-linejoin="round"/>
<path d="M224.4,46.5C223.9,51.6 222.2,67 221.3,77.3C220.4,87.6 219.1,98.1 218.8,108.5C218.5,118.9 219,131.5 219.7,139.8C220.4,148.1 222.5,150.7 222.8,158.5C223.1,166.3 221.8,177.8 221.3,186.6C220.8,195.4 220,204.8 219.7,211.6C219.4,218.4 219.5,223.2 219.7,227.3C219.9,231.4 221.1,232.4 221.1,236.1C221.1,239.8 221.2,245.5 219.5,249.4C217.8,253.3 213.4,256 211.2,259.3C209,262.6 206.5,265.9 206.2,269.2C205.9,272.5 207.6,275.7 209.5,279C211.4,282.3 215.3,284.5 217.8,288.9C220.3,293.3 223,300.5 224.4,305.5C225.8,310.5 225.7,306.8 226,318.7C226.3,330.6 226,367.3 226,377" fill="none" stroke="#000" stroke-width="2.2" stroke-linejoin="round" stroke-dasharray="4.5,3"/>
<path d="M705.4,46.5C705.3,51.9 704.7,70.8 704.7,79C704.7,87.2 705.6,90 705.4,95.5C705.2,101 704.2,105.9 703.7,112C703.2,118.1 702.9,126.4 702.1,131.9C701.3,137.4 700.2,141.2 698.8,145.1C697.4,148.9 695.4,151.2 693.8,155C692.1,158.8 690.3,163.2 688.9,168.2C687.5,173.1 687.2,178.6 685.6,184.7C684,190.8 681.2,199.5 679,204.5C676.8,209.5 675.8,211.2 672.5,214.9C669.2,218.6 663.8,223 659.1,226.7C654.4,230.4 648,234.1 644.3,237.1C640.6,240.1 638,242.1 636.8,244.6C635.5,247.1 635.8,249.5 636.8,252C637.8,254.5 642,256.9 642.8,259.4C643.5,261.9 643.5,264.8 641.3,266.8C639.1,268.8 634.8,269.6 629.4,271.3C624,273 615,275.5 608.6,277.2C602.2,278.9 595.2,280.1 590.8,281.7C586.3,283.3 582.9,285 581.9,286.7C580.9,288.4 581.9,290.5 584.9,292.1C587.9,293.8 593.8,295.1 599.7,296.6C605.6,298.1 613.6,299.5 620.5,301C627.4,302.5 634.4,303.8 641.3,305.5C648.2,307.2 655.7,309.2 662.1,311.4C668.5,313.6 674.5,316.1 679.9,318.8C685.3,321.5 690.6,324.5 694.8,327.7C699,330.9 702.7,334.1 705.2,338.1C707.7,342.1 708.8,345 709.6,351.5C710.4,358 710.1,372.8 710.2,377" fill="none" stroke="#000" stroke-width="2.2" stroke-linejoin="round"/>
<path d="M1190.5,46.5C1190.6,52.1 1190.9,71.1 1191,80C1191.1,88.9 1191.5,92.8 1191,100C1190.5,107.2 1188.8,115.4 1187.7,123.1C1186.6,130.8 1185.6,138.5 1184.3,146.2C1183,153.9 1181.6,162 1179.7,169.3C1177.8,176.6 1175.2,185.1 1172.7,190.1C1170.2,195.1 1168,196.4 1164.7,199.3C1161.4,202.2 1157.3,204.9 1153.1,207.4C1148.8,209.9 1144,212.1 1139.2,214.3C1134.4,216.5 1131.2,218.5 1124.3,220.8C1117.4,223.1 1105,226 1097.6,228.2C1090.2,230.4 1084.4,232.5 1079.7,234.2C1075,235.9 1069.8,237.1 1069.3,238.6C1068.8,240.1 1072.1,241.4 1076.8,243.1C1081.5,244.8 1089.7,247.2 1097.6,249C1105.5,250.8 1115.9,252.1 1124.3,254.1C1132.7,256.1 1141.2,258 1148.1,260.9C1155,263.8 1161,267.1 1165.9,271.3C1170.9,275.5 1175.1,281.2 1177.8,286.2C1180.5,291.1 1181.5,296.1 1182.2,301C1182.9,305.9 1182.9,310.9 1182.2,315.9C1181.5,320.8 1179,326.5 1177.8,330.7C1176.6,334.9 1174.8,338.1 1174.8,341.1C1174.8,344.1 1176.1,345.8 1177.8,348.5C1179.5,351.2 1183,354 1185.2,357.5C1187.4,361 1189.9,366.1 1191.1,369.3C1192.3,372.6 1192.3,375.7 1192.6,377" fill="none" stroke="#000" stroke-width="2.2" stroke-linejoin="round" stroke-dasharray="4.5,3"/>
<path d="M1191.5,46.5C1191.6,55.4 1191.9,85.3 1192,100C1192.1,114.7 1192.2,123 1191.9,134.6C1191.7,146.2 1191.4,157.7 1190.5,169.3C1189.6,180.9 1187.8,196.3 1186.6,204C1185.4,211.7 1184.5,211.5 1183.1,215.5C1181.7,219.5 1179.4,224.6 1178,228C1176.6,231.4 1175.3,233.5 1174.5,236C1173.7,238.5 1172.8,240.2 1173.3,243.1C1173.8,246 1175.6,249.3 1177.8,253.5C1180,257.7 1184.2,263.4 1186.7,268.3C1189.2,273.2 1191.5,276.8 1192.6,283.2C1193.7,289.6 1193.5,301.1 1193.2,307C1193,312.9 1192.7,315.4 1191.1,318.8C1189.5,322.2 1186.2,324.7 1183.7,327.7C1181.2,330.7 1177.8,333.7 1176.3,336.7C1174.8,339.7 1174.3,342.6 1174.8,345.6C1175.3,348.6 1177.3,351.8 1179.3,354.5C1181.3,357.2 1184.7,359.4 1186.7,361.9C1188.7,364.4 1190.1,366.8 1191.1,369.3C1192.1,371.8 1192.3,375.7 1192.6,377" fill="none" stroke="#000" stroke-width="2.2" stroke-linejoin="round"/>
<path d="M252.7,438.9C255.2,438.6 262.9,438.2 267.7,437.3C272.5,436.4 277.4,435.1 281.6,433.6C285.8,432.1 289.7,430.3 293.1,428.5C296.6,426.7 299.6,425 302.3,422.7C305,420.4 307,417.7 309.3,414.6C311.6,411.5 314.1,407.2 316.2,404.2C318.3,401.2 320.4,398.1 322,396.6C323.6,395.1 324.6,394.7 325.9,395C327.2,395.3 328.7,396.8 330,398.5C331.3,400.2 332.3,402.3 333.5,405.4C334.7,408.5 335.9,412.7 337,416.9C338.1,421.1 339,426.2 340.4,430.8C341.8,435.4 343.4,440.6 345.1,444.6C346.8,448.6 348.7,452.1 350.8,455C352.9,457.9 355.3,460.3 357.8,462C360.3,463.7 363.9,464.4 365.8,465C367.7,465.6 367.8,466.4 369.3,465.9C370.9,465.4 372.8,464 375.1,462C377.4,460 380.3,456.6 383.2,453.9C386.1,451.2 389.6,447.9 392.4,445.8C395.2,443.7 397.6,442.3 400,441.2C402.4,440.1 403.5,439.9 406.5,439.4C409.5,438.9 410.4,438.7 418.1,438.4C425.8,438.1 438.2,437.7 452.8,437.6C467.4,437.5 496.7,438.2 505.9,437.7C515.1,437.1 506.7,435.2 508.2,434.3C509.7,433.4 511.6,432.6 515.1,432C518.6,431.4 525.1,430.4 529,430.4C532.9,430.4 534.7,431 538.2,432C541.7,433 546.2,435.7 549.8,436.6C553.3,437.6 557.9,437.5 559.5,437.7" fill="none" stroke="#3a6ea8" stroke-width="2.3" stroke-linejoin="round"/>
<path d="M252.7,438.9C256.4,438.7 269,438.3 274.6,437.7C280.2,437.1 282,436.8 286.2,435.4C290.4,434 296.1,431.3 300,429.6C303.9,427.9 306.2,427.1 309.3,425C312.4,422.9 315.8,419 318.5,416.9C321.2,414.8 323.5,413.1 325.4,412.3C327.3,411.5 328.4,411.5 330,411.9C331.6,412.3 333.1,413.5 334.7,414.6C336.2,415.8 337.9,417.8 339.3,418.8C340.8,419.8 342,420.7 343.4,420.4C344.8,420.1 346.2,419 347.4,416.9C348.6,414.8 349.6,411.7 350.8,407.7C352,403.7 353.3,396 354.3,392.7C355.3,389.4 355.8,388.3 356.6,388.1C357.4,387.9 357.9,388.2 358.9,391.5C359.9,394.8 361.4,401.9 362.4,407.7C363.4,413.5 363.9,419.3 364.7,426.2C365.5,433.1 366.2,441.6 367,449.3C367.8,457 368.3,463.9 369.3,472.4C370.3,480.9 371.7,493.2 372.8,500.1C373.9,507 375.1,512.9 376.2,513.9C377.3,514.9 378.3,510.8 379.7,505.8C381.1,500.8 382.8,490.6 384.3,483.9C385.8,477.2 387.2,470.8 388.9,465.4C390.6,460 392.5,455.2 394.7,451.6C396.9,448 399.5,445.6 401.9,443.5C404.3,441.4 405.8,440 408.9,438.9C412,437.8 415,437 420.4,436.6C425.8,436.2 433.9,436.4 441.2,436.6C448.5,436.8 453.5,437.5 464.3,437.7C475.1,437.9 498.2,437.9 505.9,437.7C513.6,437.5 508.2,437 510.5,436.6C512.8,436.2 516.6,435.6 519.7,435.4C522.8,435.2 525.9,435 529,435.4C532.1,435.8 535.5,436.7 538.2,437.7C540.9,438.7 542.5,440.6 545.2,441.2C547.9,441.8 552,441.3 554.4,441.2C556.8,441.1 558.6,440.6 559.5,440.5" fill="none" stroke="#ee1111" stroke-width="2.3" stroke-linejoin="round"/>
<path d="M295.4,438.9C297.7,438.3 305.1,436.8 309.3,435.4C313.5,434 317.5,431.6 320.8,430.3C324.1,429 326.6,427.7 328.9,427.3C331.2,426.9 332.6,427.2 334.7,428C336.8,428.8 339.5,430.8 341.6,432C343.7,433.2 345.1,434.8 347.4,435.4C349.7,436 352.9,435.3 355.4,435.4C357.9,435.5 360.7,435.3 362.4,435.9C364.1,436.5 364.4,437.6 365.8,438.9C367.2,440.2 368.4,442.4 370.5,443.5C372.6,444.6 375.6,445.6 378.5,445.8C381.4,446 385.1,445.2 387.8,444.6C390.6,444 391.9,443.1 395,442.4C398.1,441.7 388,441.2 406.5,440.5C425,439.8 488.9,439.4 505.9,438.4C522.9,437.4 506.3,435.9 508.2,434.3C510.1,432.7 514.3,430.2 517.4,428.5C520.5,426.8 524,424.7 526.7,423.9C529.4,423.1 530.9,422.5 533.6,423.9C536.3,425.2 539.7,429.5 542.8,432C545.9,434.5 549.3,437.5 552.1,438.9C554.9,440.3 558.3,440.2 559.5,440.5" fill="none" stroke="#33b865" stroke-width="2.3" stroke-linejoin="round"/>
<path d="M711,438.5C714,438.2 724,437.3 729,436.8C734,436.3 736.9,435.8 740.9,435.3C744.9,434.8 748.9,434.5 752.9,433.7C756.9,432.9 760.9,432 764.9,430.6C768.9,429.2 773.2,426.8 776.8,425.3C780.4,423.8 784,422.3 786.4,421.7C788.8,421.1 789.4,421.1 791.2,421.7C793,422.3 795.2,423.1 797.2,425.3C799.2,427.5 801.4,431.5 803.2,434.9C805,438.3 806.4,442.6 808,445.6C809.6,448.6 810.8,451.6 812.8,452.8C814.8,454 817.1,453.3 819.9,452.8C822.7,452.3 826.9,449.8 829.5,449.7C832.1,449.6 833.3,451 835.5,452.1C837.7,453.2 840.7,455.4 842.7,456.4C844.7,457.4 845.3,458.7 847.5,458.3C849.7,457.9 852.9,455.7 855.9,454C858.9,452.3 862.2,449.8 865.4,448C868.6,446.2 872.6,444.3 875,443.2C877.4,442.1 876.5,442.3 879.6,441.6C882.8,440.9 889.5,439.9 893.9,439.2C898.3,438.5 895.9,437.8 905.9,437.7C915.9,437.6 945.8,438.3 953.8,438.4" fill="none" stroke="#3a6ea8" stroke-width="2.3" stroke-linejoin="round"/>
<path d="M719.4,437.7C723,437.6 733.3,437.5 740.9,436.8C748.5,436.1 758.1,434.9 764.9,433.7C771.7,432.5 777.2,430.6 781.6,429.6C786,428.6 788.4,427.6 791.2,427.7C794,427.8 796,428.6 798.4,430.1C800.8,431.6 803.6,435.3 805.6,436.8C807.6,438.3 809,439.1 810.4,439.2C811.8,439.3 812.4,440.4 814,437.7C815.6,435 818.2,427.8 820,422.9C821.8,418 823.1,414.1 824.7,408.5C826.3,402.9 828.1,393.6 829.5,389.4C830.9,385.2 832,383 833.1,383.4C834.2,383.8 835.2,386.8 836.2,391.8C837.2,396.8 838.2,404.9 839.1,413.3C840,421.7 840.5,432.4 841.5,442C842.5,451.6 843.9,461.2 845.1,470.8C846.3,480.4 847.6,492.8 848.7,499.5C849.8,506.2 850.4,510.6 851.6,511C852.8,511.4 854.4,507.8 855.9,501.9C857.4,496 858.7,483.6 860.7,475.6C862.7,467.6 865.4,459.2 867.8,454C870.1,448.8 872.4,446.7 874.8,444.4C877.2,442.1 879.6,441.1 882,440.1C884.4,439.1 886,438.8 889.2,438.4C892.4,438 894.7,438 901.1,438C907.5,438 923.1,438.3 927.5,438.4" fill="none" stroke="#ee1111" stroke-width="2.3" stroke-linejoin="round"/>
<path d="M711,438.5C720,438.3 752.7,437.9 764.9,437.3C777.1,436.7 779.2,435.5 784,434.9C788.8,434.3 790.8,433.7 793.6,433.7C796.4,433.7 798.4,434.1 800.8,434.9C803.2,435.7 805.6,437.4 808,438.5C810.4,439.6 812.8,441.5 815.2,441.6C817.6,441.7 819.9,439.9 822.3,439.2C824.7,438.5 826.7,437.9 829.5,437.7C832.3,437.4 836.7,437.2 839.1,437.7C841.5,438.2 841.9,439.6 843.9,440.9C845.9,442.2 848.7,444.7 851.1,445.6C853.5,446.5 855.5,446.5 858.3,446.4C861.1,446.3 865,445.4 867.8,444.9C870.6,444.4 873,443.7 875,443.2C877,442.7 876.5,442.4 879.6,442C882.8,441.6 888.5,441.2 893.9,440.8C899.3,440.4 908.9,439.8 911.9,439.6" fill="none" stroke="#33b865" stroke-width="2.3" stroke-linejoin="round"/>
<path d="M1193.9,439.2C1196.4,438.7 1204.4,437.3 1208.9,436.1C1213.4,434.9 1217.9,432.4 1220.9,432C1223.9,431.6 1224.9,432.6 1226.9,433.7C1228.9,434.8 1231.1,436.9 1232.9,438.5C1234.7,440.1 1235.9,442.1 1237.7,443.2C1239.5,444.3 1241.3,445 1243.7,444.9C1246.1,444.8 1249,443.4 1252,442.5C1255,441.6 1256.8,440.5 1261.6,439.7C1266.4,438.9 1274.4,438.6 1280.8,437.7C1287.2,436.8 1294.8,435.3 1300,434.4C1305.2,433.4 1308.7,432.4 1311.9,432C1315.1,431.6 1316.7,431.4 1319.1,432C1321.5,432.6 1324.1,434 1326.3,435.3C1328.5,436.6 1330.3,438.2 1332.3,439.7C1334.3,441.1 1335.7,443 1338.3,444C1340.9,445 1345,445.5 1347.8,445.6C1350.6,445.7 1353,444.7 1355,444.4C1357,444.1 1357.2,444.4 1359.6,443.9C1361.9,443.4 1365.9,442.2 1369.1,441.5C1372.3,440.8 1377.1,439.9 1378.7,439.6" fill="none" stroke="#3a6ea8" stroke-width="2.3" stroke-linejoin="round"/>
<path d="M1193.9,439.2C1195.6,438.9 1200.9,438.2 1204.2,437.3C1207.5,436.4 1210.7,434.8 1213.7,433.7C1216.7,432.6 1219.7,430.7 1222.1,430.6C1224.5,430.5 1226.3,431.8 1228.1,433C1229.9,434.2 1231.3,435.8 1232.9,437.7C1234.5,439.6 1236.1,442.9 1237.7,444.4C1239.3,445.8 1240.5,446.6 1242.5,446.4C1244.5,446.2 1247.3,444.3 1249.7,443.2C1252.1,442.1 1253.6,440.8 1256.8,439.7C1260,438.6 1264.8,437.8 1268.8,436.8C1272.8,435.8 1277.2,435 1280.8,433.7C1284.4,432.4 1287.6,430.7 1290.4,428.9C1293.2,427.1 1295.1,425.5 1297.5,422.9C1299.9,420.3 1302.7,416.9 1304.7,413.3C1306.7,409.7 1307.9,405.3 1309.5,401.3C1311.1,397.3 1312.7,392.4 1314.3,389.4C1315.9,386.4 1317.7,383.8 1319.1,383.4C1320.5,383 1321.5,384 1322.7,387C1323.9,390 1325.1,395.3 1326.3,401.3C1327.5,407.3 1328.9,416.5 1329.9,422.9C1330.9,429.3 1331.5,433.7 1332.3,439.7C1333.1,445.7 1333.7,452.4 1334.7,458.8C1335.7,465.2 1336.9,472.7 1338.3,478C1339.7,483.3 1341.4,489.6 1343,490.4C1344.6,491.2 1346.2,486.5 1347.8,482.8C1349.4,479.1 1351.4,471.8 1352.6,468.4C1353.8,465 1353.8,465 1355,462.4C1356.2,459.8 1358,455.2 1359.6,452.8C1361.2,450.4 1362.4,449.6 1364.4,448C1366.4,446.4 1368.7,444.5 1371.5,443.2C1374.3,441.9 1376.7,440.9 1381.1,440.1C1385.5,439.3 1393.1,438.8 1397.9,438.4C1402.7,438 1399.8,438 1409.8,438C1419.8,438 1449.7,438.3 1457.7,438.4" fill="none" stroke="#ee1111" stroke-width="2.3" stroke-linejoin="round"/>
<line x1="9.7" y1="458.3" x2="34.8" y2="458.3" stroke="#3a6ea8" stroke-width="2.3" />
<text transform="translate(42.5,467.5) scale(1,1.0)" font-size="26.8" text-anchor="start" fill="#000" color="#000" font-weight="normal" >1.571 eV</text>
<line x1="9.7" y1="481.9" x2="34.8" y2="481.9" stroke="#ee1111" stroke-width="2.3" />
<text transform="translate(42.5,491.1) scale(1,1.0)" font-size="26.8" text-anchor="start" fill="#000" color="#000" font-weight="normal" >1.593 eV</text>
<line x1="9.7" y1="505.5" x2="34.8" y2="505.5" stroke="#33b865" stroke-width="2.3" />
<text transform="translate(42.5,514.7) scale(1,1.0)" font-size="26.8" text-anchor="start" fill="#000" color="#000" font-weight="normal" >1.70 eV (x5)</text>
<line x1="883.2" y1="456.4" x2="908.3" y2="456.4" stroke="#3a6ea8" stroke-width="2.3" />
<text transform="translate(915.2,465.6) scale(1,1.0)" font-size="26.8" text-anchor="start" fill="#000" color="#000" font-weight="normal" >1.56 eV</text>
<line x1="883.2" y1="480.1" x2="908.3" y2="480.1" stroke="#ee1111" stroke-width="2.3" />
<text transform="translate(915.2,489.3) scale(1,1.0)" font-size="26.8" text-anchor="start" fill="#000" color="#000" font-weight="normal" >1.587 eV</text>
<line x1="883.2" y1="503.8" x2="908.3" y2="503.8" stroke="#33b865" stroke-width="2.3" />
<text transform="translate(915.2,513) scale(1,1.0)" font-size="26.8" text-anchor="start" fill="#000" color="#000" font-weight="normal" >1.64 eV</text>
<line x1="1364.4" y1="467.9" x2="1389.5" y2="467.9" stroke="#3a6ea8" stroke-width="2.3" />
<text transform="translate(1396.5,477.1) scale(1,1.0)" font-size="26.8" text-anchor="start" fill="#000" color="#000" font-weight="normal" >1.525 eV</text>
<line x1="1364.4" y1="491.8" x2="1389.5" y2="491.8" stroke="#ee1111" stroke-width="2.3" />
<text transform="translate(1396.5,501) scale(1,1.0)" font-size="26.8" text-anchor="start" fill="#000" color="#000" font-weight="normal" >1.592 eV</text>
<line x1="119.9" y1="225.5" x2="119.9" y2="198" stroke="#000" stroke-width="2.2" />
<text transform="translate(129.9,193.6) rotate(-90) scale(1,1.0)" font-size="27" text-anchor="start" fill="#000" color="#000" font-weight="normal" >1.565 eV</text>
<line x1="145" y1="225.5" x2="145" y2="203" stroke="#000" stroke-width="2.2" stroke-dasharray="4.5,3.2"/>
<text transform="translate(155,193.6) rotate(-90) scale(1,1.0)" font-size="27" text-anchor="start" fill="#000" color="#000" font-weight="normal" >1.70 eV</text>
<line x1="600.2" y1="206" x2="600.2" y2="172" stroke="#000" stroke-width="2.2" />
<text transform="translate(610.2,167.1) rotate(-90) scale(1,1.0)" font-size="25.5" text-anchor="start" fill="#000" color="#000" font-weight="normal" >1.555 eV</text>
<line x1="1086.4" y1="204.3" x2="1086.4" y2="179" stroke="#000" stroke-width="2.2" />
<text transform="translate(1096.4,174.6) rotate(-90) scale(1,1.0)" font-size="27.5" text-anchor="start" fill="#000" color="#000" font-weight="normal" >1.521 eV</text>
<line x1="1111.8" y1="204.3" x2="1111.8" y2="183.5" stroke="#000" stroke-width="2.2" stroke-dasharray="4.5,3.2"/>
<text transform="translate(1121.8,174.6) rotate(-90) scale(1,1.0)" font-size="27.5" text-anchor="start" fill="#000" color="#000" font-weight="normal" >1.581 eV</text>
<text transform="translate(202.5,485) rotate(-90) scale(1,1.0)" font-size="31" text-anchor="start" fill="#000" color="#000" font-weight="normal" >A<tspan font-size="21" dy="8">2D</tspan></text>
<text transform="translate(683.5,485) rotate(-90) scale(1,1.0)" font-size="31" text-anchor="start" fill="#000" color="#000" font-weight="normal" >A<tspan font-size="21" dy="8">2D</tspan></text>
<text transform="translate(1166,485) rotate(-90) scale(1,1.0)" font-size="31" text-anchor="start" fill="#000" color="#000" font-weight="normal" >A<tspan font-size="21" dy="8">2D</tspan></text>
<text transform="translate(242.5,91.7) scale(1,1.05)" font-size="32.2" text-anchor="start" fill="#000" color="#000" font-weight="normal" >18°</text>
<text transform="translate(729.5,92.6) scale(1,1.05)" font-size="32.2" text-anchor="start" fill="#000" color="#000" font-weight="normal" >21°</text>
<text transform="translate(1218,92.6) scale(1,1.05)" font-size="32.2" text-anchor="start" fill="#000" color="#000" font-weight="normal" >27°</text>
<text transform="translate(466.5,72.4) scale(1,1.0)" font-size="27.5" text-anchor="start" fill="#000" color="#000" font-weight="normal" >UP</text>
<text transform="translate(465.5,231.2) scale(1,1.0)" font-size="27.5" text-anchor="start" fill="#000" color="#000" font-weight="normal" >X</text>
<text transform="translate(465.5,267.7) scale(1,1.0)" font-size="27.5" text-anchor="start" fill="#000" color="#000" font-weight="normal" >LP</text>
<text transform="translate(520,346.1) scale(1,1.0)" font-size="27.5" text-anchor="start" fill="#ee1111" color="#ee1111" font-weight="normal" >x5</text>
<text transform="translate(992.8,151.2) scale(1,1.0)" font-size="27.5" text-anchor="start" fill="#000" color="#000" font-weight="normal" >UP</text>
<text transform="translate(993.3,229.6) scale(1,1.0)" font-size="27.5" text-anchor="start" fill="#000" color="#000" font-weight="normal" >X</text>
<text transform="translate(992.8,277.2) scale(1,1.0)" font-size="27.5" text-anchor="start" fill="#000" color="#000" font-weight="normal" >LP</text>
<text transform="translate(1476.3,229.6) scale(1,1.0)" font-size="27.5" text-anchor="start" fill="#000" color="#000" font-weight="normal" >X</text>
<text transform="translate(1474.8,335.3) scale(1,1.0)" font-size="27.5" text-anchor="start" fill="#000" color="#000" font-weight="normal" >LP</text>
</svg></body></html>
